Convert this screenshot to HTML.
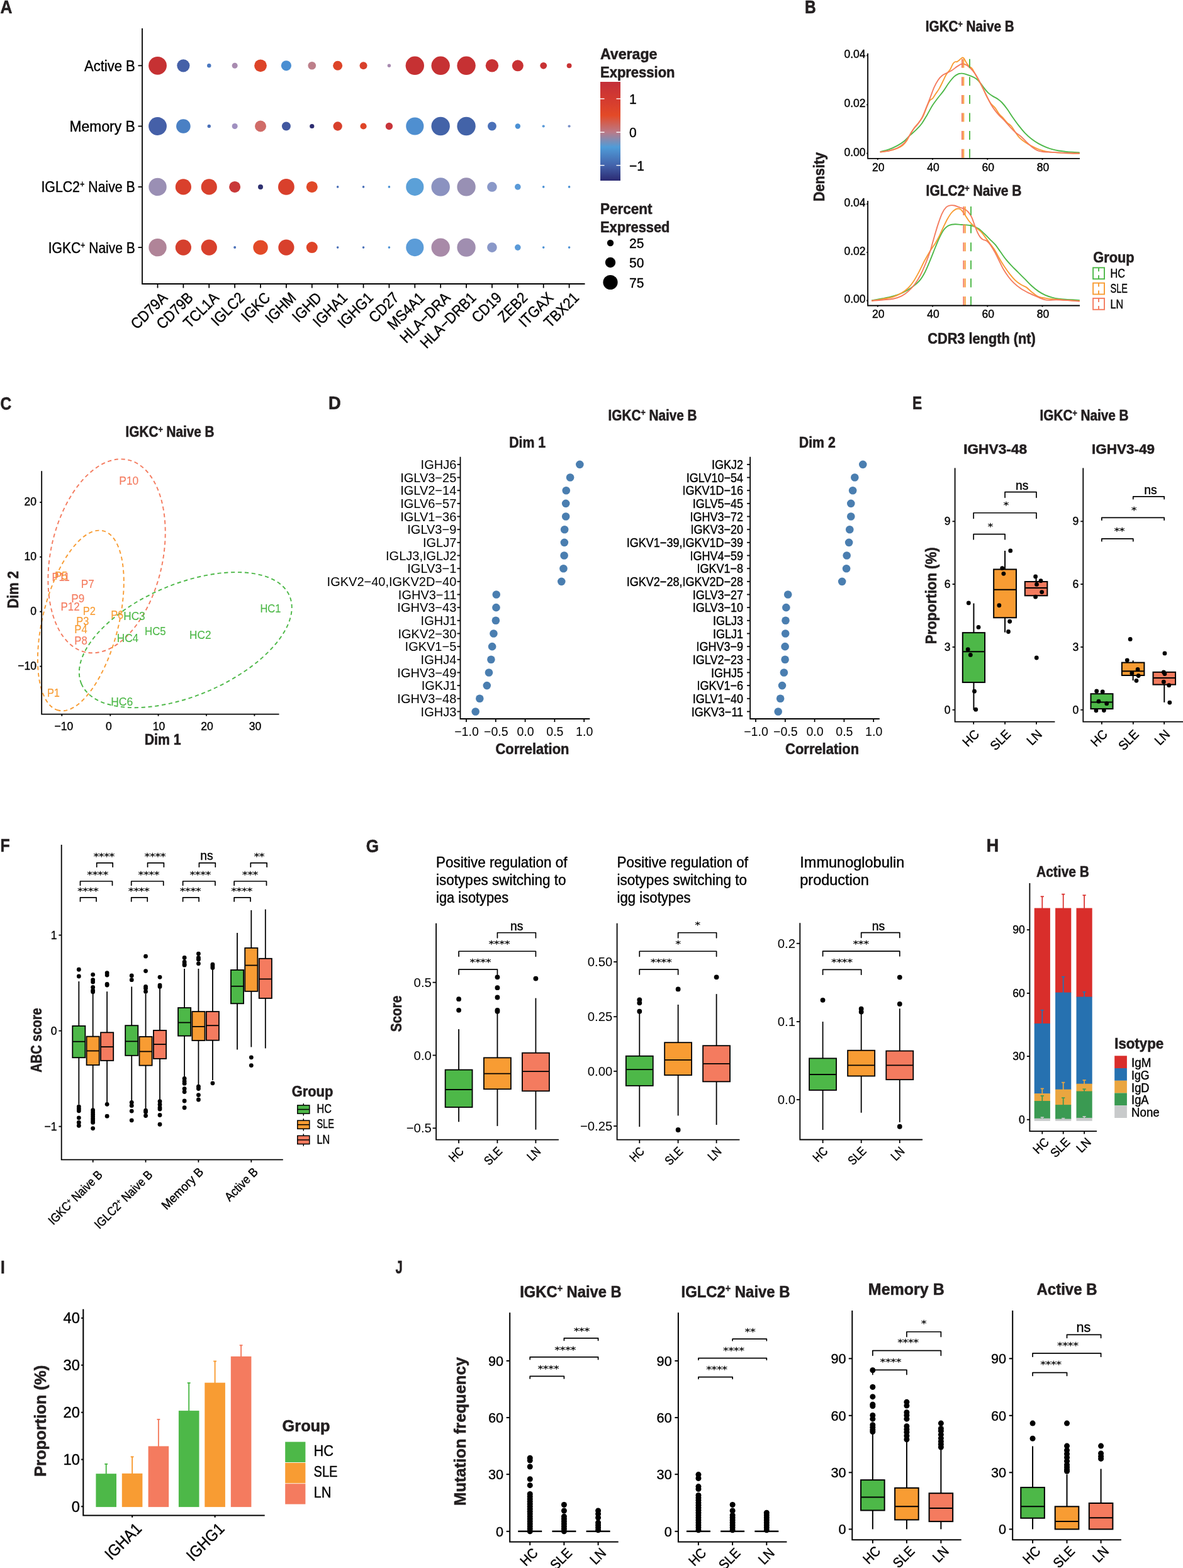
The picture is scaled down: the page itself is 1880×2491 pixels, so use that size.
<!DOCTYPE html>
<html><head><meta charset="utf-8"><title>Figure</title>
<style>html,body{margin:0;padding:0;background:#fff}svg{display:block}text{font-family:"Liberation Sans",sans-serif;fill:#000;stroke:#000;stroke-width:0.4px;stroke-linejoin:round}.b{font-weight:bold;stroke-width:0.6px;fill:#231f20;stroke:#231f20}.h{fill:#000;stroke:none}.s{font-family:"DejaVu Sans","Liberation Sans",sans-serif;font-weight:200;stroke-width:0.6px}</style>
</head><body>
<svg width="1880" height="2491" viewBox="0 0 1880 2491">
<rect width="1880" height="2491" fill="#fff"/>
<text transform="translate(0.5,21.3) scale(0.8918,1)" font-size="29.5" class="b" xml:space="preserve">A</text>
<path d="M226 45V451H929.5" fill="none" stroke="#000" stroke-width="1.8" stroke-linejoin="miter" stroke-linecap="butt"/>
<line x1="250.5" y1="451" x2="250.5" y2="457.5" stroke="#000" stroke-width="1.8"/>
<line x1="291.38" y1="451" x2="291.38" y2="457.5" stroke="#000" stroke-width="1.8"/>
<line x1="332.26" y1="451" x2="332.26" y2="457.5" stroke="#000" stroke-width="1.8"/>
<line x1="373.14" y1="451" x2="373.14" y2="457.5" stroke="#000" stroke-width="1.8"/>
<line x1="414.02" y1="451" x2="414.02" y2="457.5" stroke="#000" stroke-width="1.8"/>
<line x1="454.9" y1="451" x2="454.9" y2="457.5" stroke="#000" stroke-width="1.8"/>
<line x1="495.78" y1="451" x2="495.78" y2="457.5" stroke="#000" stroke-width="1.8"/>
<line x1="536.66" y1="451" x2="536.66" y2="457.5" stroke="#000" stroke-width="1.8"/>
<line x1="577.54" y1="451" x2="577.54" y2="457.5" stroke="#000" stroke-width="1.8"/>
<line x1="618.42" y1="451" x2="618.42" y2="457.5" stroke="#000" stroke-width="1.8"/>
<line x1="659.3" y1="451" x2="659.3" y2="457.5" stroke="#000" stroke-width="1.8"/>
<line x1="700.18" y1="451" x2="700.18" y2="457.5" stroke="#000" stroke-width="1.8"/>
<line x1="741.06" y1="451" x2="741.06" y2="457.5" stroke="#000" stroke-width="1.8"/>
<line x1="781.94" y1="451" x2="781.94" y2="457.5" stroke="#000" stroke-width="1.8"/>
<line x1="822.82" y1="451" x2="822.82" y2="457.5" stroke="#000" stroke-width="1.8"/>
<line x1="863.7" y1="451" x2="863.7" y2="457.5" stroke="#000" stroke-width="1.8"/>
<line x1="904.58" y1="451" x2="904.58" y2="457.5" stroke="#000" stroke-width="1.8"/>
<line x1="219.5" y1="104.3" x2="226" y2="104.3" stroke="#000" stroke-width="1.8"/>
<line x1="219.5" y1="200.5" x2="226" y2="200.5" stroke="#000" stroke-width="1.8"/>
<line x1="219.5" y1="296.9" x2="226" y2="296.9" stroke="#000" stroke-width="1.8"/>
<line x1="219.5" y1="393.1" x2="226" y2="393.1" stroke="#000" stroke-width="1.8"/>
<text transform="translate(214.8,112.8) scale(0.9076,1)" font-size="24.3" text-anchor="end" xml:space="preserve">Active B</text>
<text transform="translate(214.8,209) scale(0.9421,1)" font-size="24.3" text-anchor="end" xml:space="preserve">Memory B</text>
<text transform="translate(214.8,305.4) scale(0.8764,1)" font-size="24.3" text-anchor="end" xml:space="preserve">IGLC2<tspan font-size="14.58" dy="-8.02">+</tspan><tspan dy="8.02"> Naive B</tspan></text>
<text transform="translate(214.8,401.6) scale(0.8644,1)" font-size="24.3" text-anchor="end" xml:space="preserve">IGKC<tspan font-size="14.58" dy="-8.02">+</tspan><tspan dy="8.02"> Naive B</tspan></text>
<text transform="translate(267.5,474.5) rotate(-45) scale(0.9000,1)" font-size="24.3" text-anchor="end" xml:space="preserve">CD79A</text>
<text transform="translate(308.38,474.5) rotate(-45) scale(0.9000,1)" font-size="24.3" text-anchor="end" xml:space="preserve">CD79B</text>
<text transform="translate(349.26,474.5) rotate(-45) scale(0.9000,1)" font-size="24.3" text-anchor="end" xml:space="preserve">TCL1A</text>
<text transform="translate(390.14,474.5) rotate(-45) scale(0.9000,1)" font-size="24.3" text-anchor="end" xml:space="preserve">IGLC2</text>
<text transform="translate(431.02,474.5) rotate(-45) scale(0.9000,1)" font-size="24.3" text-anchor="end" xml:space="preserve">IGKC</text>
<text transform="translate(471.9,474.5) rotate(-45) scale(0.9000,1)" font-size="24.3" text-anchor="end" xml:space="preserve">IGHM</text>
<text transform="translate(512.78,474.5) rotate(-45) scale(0.9000,1)" font-size="24.3" text-anchor="end" xml:space="preserve">IGHD</text>
<text transform="translate(553.66,474.5) rotate(-45) scale(0.9000,1)" font-size="24.3" text-anchor="end" xml:space="preserve">IGHA1</text>
<text transform="translate(594.54,474.5) rotate(-45) scale(0.9000,1)" font-size="24.3" text-anchor="end" xml:space="preserve">IGHG1</text>
<text transform="translate(635.42,474.5) rotate(-45) scale(0.9000,1)" font-size="24.3" text-anchor="end" xml:space="preserve">CD27</text>
<text transform="translate(676.3,474.5) rotate(-45) scale(0.9000,1)" font-size="24.3" text-anchor="end" xml:space="preserve">MS4A1</text>
<text transform="translate(717.18,474.5) rotate(-45) scale(0.9000,1)" font-size="24.3" text-anchor="end" xml:space="preserve">HLA−DRA</text>
<text transform="translate(758.06,474.5) rotate(-45) scale(0.9000,1)" font-size="24.3" text-anchor="end" xml:space="preserve">HLA−DRB1</text>
<text transform="translate(798.94,474.5) rotate(-45) scale(0.9000,1)" font-size="24.3" text-anchor="end" xml:space="preserve">CD19</text>
<text transform="translate(839.82,474.5) rotate(-45) scale(0.9000,1)" font-size="24.3" text-anchor="end" xml:space="preserve">ZEB2</text>
<text transform="translate(880.7,474.5) rotate(-45) scale(0.9000,1)" font-size="24.3" text-anchor="end" xml:space="preserve">ITGAX</text>
<text transform="translate(921.58,474.5) rotate(-45) scale(0.9000,1)" font-size="24.3" text-anchor="end" xml:space="preserve">TBX21</text>
<circle cx="250.5" cy="104.3" r="14.4" fill="#c63133"/>
<circle cx="291.38" cy="104.3" r="10.1" fill="#4560a8"/>
<circle cx="332.26" cy="104.3" r="3.2" fill="#4a78c0"/>
<circle cx="373.14" cy="104.3" r="4.5" fill="#a88bb0"/>
<circle cx="414.02" cy="104.3" r="9.9" fill="#dd4428"/>
<circle cx="454.9" cy="104.3" r="8.1" fill="#4a8fd2"/>
<circle cx="495.78" cy="104.3" r="6.3" fill="#bd7f8a"/>
<circle cx="536.66" cy="104.3" r="7.5" fill="#dd4428"/>
<circle cx="577.54" cy="104.3" r="6" fill="#d8402c"/>
<circle cx="618.42" cy="104.3" r="2.7" fill="#a88ab0"/>
<circle cx="659.3" cy="104.3" r="14.7" fill="#c63133"/>
<circle cx="700.18" cy="104.3" r="14.7" fill="#c63133"/>
<circle cx="741.06" cy="104.3" r="14.7" fill="#c63133"/>
<circle cx="781.94" cy="104.3" r="10.2" fill="#c83234"/>
<circle cx="822.82" cy="104.3" r="9" fill="#c83234"/>
<circle cx="863.7" cy="104.3" r="5.4" fill="#c83234"/>
<circle cx="904.58" cy="104.3" r="3.9" fill="#c83234"/>
<circle cx="250.5" cy="200.5" r="14.4" fill="#4560a8"/>
<circle cx="291.38" cy="200.5" r="11.3" fill="#4a80c4"/>
<circle cx="332.26" cy="200.5" r="2.7" fill="#4a70b8"/>
<circle cx="373.14" cy="200.5" r="4.5" fill="#a090c0"/>
<circle cx="414.02" cy="200.5" r="9" fill="#d06c68"/>
<circle cx="454.9" cy="200.5" r="7" fill="#4158a0"/>
<circle cx="495.78" cy="200.5" r="3.6" fill="#2c2c70"/>
<circle cx="536.66" cy="200.5" r="7.2" fill="#d8402c"/>
<circle cx="577.54" cy="200.5" r="5.1" fill="#df4528"/>
<circle cx="618.42" cy="200.5" r="5.7" fill="#c8343a"/>
<circle cx="659.3" cy="200.5" r="14.1" fill="#4f8fd0"/>
<circle cx="700.18" cy="200.5" r="14.7" fill="#4363a8"/>
<circle cx="741.06" cy="200.5" r="14.7" fill="#4363a8"/>
<circle cx="781.94" cy="200.5" r="6.9" fill="#4a70b8"/>
<circle cx="822.82" cy="200.5" r="4.2" fill="#4a90d4"/>
<circle cx="863.7" cy="200.5" r="2.1" fill="#5a9ad8"/>
<circle cx="904.58" cy="200.5" r="2.1" fill="#7a90c8"/>
<circle cx="250.5" cy="296.9" r="14.2" fill="#9a8fb4"/>
<circle cx="291.38" cy="296.9" r="12.6" fill="#d9402c"/>
<circle cx="332.26" cy="296.9" r="12.6" fill="#d8402c"/>
<circle cx="373.14" cy="296.9" r="9" fill="#c83838"/>
<circle cx="414.02" cy="296.9" r="4" fill="#2e3070"/>
<circle cx="454.9" cy="296.9" r="12.9" fill="#d9402c"/>
<circle cx="495.78" cy="296.9" r="9" fill="#e04828"/>
<circle cx="536.66" cy="296.9" r="1.8" fill="#4a70b8"/>
<circle cx="577.54" cy="296.9" r="1.8" fill="#4a70b8"/>
<circle cx="618.42" cy="296.9" r="1.8" fill="#4a90d4"/>
<circle cx="659.3" cy="296.9" r="14.1" fill="#5ba0d8"/>
<circle cx="700.18" cy="296.9" r="14.7" fill="#8b92c0"/>
<circle cx="741.06" cy="296.9" r="14.7" fill="#9890b4"/>
<circle cx="781.94" cy="296.9" r="7.8" fill="#8a98c8"/>
<circle cx="822.82" cy="296.9" r="4.8" fill="#5a9ad8"/>
<circle cx="863.7" cy="296.9" r="1.8" fill="#4a90d4"/>
<circle cx="904.58" cy="296.9" r="1.8" fill="#4a90d4"/>
<circle cx="250.5" cy="393.1" r="14.2" fill="#b08498"/>
<circle cx="291.38" cy="393.1" r="12.6" fill="#d5402e"/>
<circle cx="332.26" cy="393.1" r="12.6" fill="#d8402c"/>
<circle cx="373.14" cy="393.1" r="2" fill="#4a70b8"/>
<circle cx="414.02" cy="393.1" r="11.7" fill="#e24a28"/>
<circle cx="454.9" cy="393.1" r="12.6" fill="#d8402c"/>
<circle cx="495.78" cy="393.1" r="9" fill="#de4428"/>
<circle cx="536.66" cy="393.1" r="1.8" fill="#4a70b8"/>
<circle cx="577.54" cy="393.1" r="1.8" fill="#4a70b8"/>
<circle cx="618.42" cy="393.1" r="1.8" fill="#4a90d4"/>
<circle cx="659.3" cy="393.1" r="14.1" fill="#5b9cd8"/>
<circle cx="700.18" cy="393.1" r="14.7" fill="#a88aa8"/>
<circle cx="741.06" cy="393.1" r="14.7" fill="#a08eb0"/>
<circle cx="781.94" cy="393.1" r="7.8" fill="#8a98c8"/>
<circle cx="822.82" cy="393.1" r="4.8" fill="#5a9ad8"/>
<circle cx="863.7" cy="393.1" r="1.8" fill="#4a90d4"/>
<circle cx="904.58" cy="393.1" r="1.8" fill="#4a90d4"/>
<text transform="translate(954,93.5) scale(0.9850,1)" font-size="23.5" class="b" xml:space="preserve">Average</text>
<text transform="translate(954,122.5) scale(0.9354,1)" font-size="23.5" class="b" xml:space="preserve">Expression</text>
<defs><linearGradient id="cb" x1="0" y1="0" x2="0" y2="1"><stop offset="0" stop-color="#c32f39"/><stop offset="0.17" stop-color="#d33a30"/><stop offset="0.34" stop-color="#e34a27"/><stop offset="0.51" stop-color="#ba7a88"/><stop offset="0.66" stop-color="#4f9cd8"/><stop offset="0.845" stop-color="#4363ab"/><stop offset="1" stop-color="#2b2a72"/></linearGradient></defs>
<rect x="954" y="130" width="32" height="157" fill="url(#cb)"/>
<line x1="954" y1="156.9" x2="960.5" y2="156.9" stroke="#fff" stroke-width="1.4"/>
<line x1="979.5" y1="156.9" x2="986" y2="156.9" stroke="#fff" stroke-width="1.4"/>
<text transform="translate(1000,164.93) scale(0.9532,1)" font-size="21.97" xml:space="preserve">1</text>
<line x1="954" y1="210.1" x2="960.5" y2="210.1" stroke="#fff" stroke-width="1.4"/>
<line x1="979.5" y1="210.1" x2="986" y2="210.1" stroke="#fff" stroke-width="1.4"/>
<text transform="translate(1000,218.13) scale(0.9532,1)" font-size="21.97" xml:space="preserve">0</text>
<line x1="954" y1="262.7" x2="960.5" y2="262.7" stroke="#fff" stroke-width="1.4"/>
<line x1="979.5" y1="262.7" x2="986" y2="262.7" stroke="#fff" stroke-width="1.4"/>
<text transform="translate(1000,270.73) scale(0.9532,1)" font-size="21.97" xml:space="preserve">−1</text>
<text transform="translate(954,339.5) scale(0.9570,1)" font-size="23.5" class="b" xml:space="preserve">Percent</text>
<text transform="translate(954,368.5) scale(0.9296,1)" font-size="23.5" class="b" xml:space="preserve">Expressed</text>
<circle cx="970" cy="386" r="5.2" fill="#000"/>
<text transform="translate(1000,394.03) scale(0.9532,1)" font-size="21.97" xml:space="preserve">25</text>
<circle cx="970" cy="417" r="8.2" fill="#000"/>
<text transform="translate(1000,425.03) scale(0.9532,1)" font-size="21.97" xml:space="preserve">50</text>
<circle cx="970" cy="448.5" r="11.6" fill="#000"/>
<text transform="translate(1000,456.53) scale(0.9532,1)" font-size="21.97" xml:space="preserve">75</text>
<text transform="translate(1279,20.6) scale(0.8308,1)" font-size="29.5" class="b" xml:space="preserve">B</text>
<text transform="translate(1541.2,50.2) scale(0.9020,1)" font-size="23" text-anchor="middle" class="b" xml:space="preserve">IGKC<tspan font-size="13.8" dy="-7.59">+</tspan><tspan dy="7.59"> Naive B</tspan></text>
<text transform="translate(1547.5,311.4) scale(0.9126,1)" font-size="23" text-anchor="middle" class="b" xml:space="preserve">IGLC2<tspan font-size="13.8" dy="-7.59">+</tspan><tspan dy="7.59"> Naive B</tspan></text>
<text transform="translate(1560,546) scale(0.9454,1)" font-size="23" text-anchor="middle" class="b" xml:space="preserve">CDR3 length (nt)</text>
<text transform="translate(1309.5,281) rotate(-90) scale(0.9389,1)" font-size="23" text-anchor="middle" class="b" xml:space="preserve">Density</text>
<path d="M1398.69 241.05C1401.1 240.41 1408.57 238.79 1413.14 237.17C1417.71 235.55 1422.13 233.5 1426.08 231.35C1430.04 229.19 1433.63 226.85 1436.87 224.23C1440.1 221.6 1442.26 218.66 1445.5 215.6C1448.73 212.54 1453.05 209.13 1456.28 205.89C1459.52 202.66 1462.03 200.14 1464.91 196.19C1467.79 192.23 1470.66 187.02 1473.54 182.17C1476.41 177.31 1479.29 171.56 1482.17 167.07C1485.04 162.57 1487.92 158.98 1490.79 155.2C1493.67 151.43 1496.55 148.37 1499.42 144.42C1502.3 140.46 1505.17 135.32 1508.05 131.48C1510.93 127.63 1514.16 123.67 1516.68 121.34C1519.19 119 1521.24 118.25 1523.15 117.45C1525.05 116.66 1526.31 116.56 1528.11 116.59C1529.91 116.63 1531.53 116.99 1533.93 117.67C1536.34 118.35 1539.69 119.47 1542.56 120.69C1545.44 121.91 1548.67 123.21 1551.19 125C1553.71 126.8 1555.5 128.96 1557.66 131.48C1559.82 133.99 1561.98 137.41 1564.13 140.1C1566.29 142.8 1568.45 145.6 1570.6 147.65C1572.76 149.7 1574.56 150.78 1577.08 152.4C1579.59 154.02 1583.19 155.63 1585.7 157.36C1588.22 159.09 1589.66 160.06 1592.17 162.75C1594.69 165.45 1597.93 169.58 1600.8 173.54C1603.68 177.49 1606.55 182.35 1609.43 186.48C1612.31 190.61 1614.82 194.21 1618.06 198.34C1621.29 202.48 1625.25 207.51 1628.84 211.29C1632.44 215.06 1636.03 218.19 1639.63 220.99C1643.22 223.8 1646.82 226.06 1650.41 228.11C1654.01 230.16 1657.6 231.78 1661.2 233.29C1664.79 234.8 1668.39 236.13 1671.98 237.17C1675.58 238.21 1679.17 238.93 1682.77 239.54C1686.36 240.15 1689.96 240.48 1693.55 240.84C1697.15 241.2 1700.64 241.45 1704.34 241.7C1708.04 241.95 1713.87 242.24 1715.77 242.35" fill="none" stroke="#4db848" stroke-width="1.9" stroke-linejoin="round" stroke-linecap="butt"/>
<path d="M1398.69 241.7C1401.1 241.34 1408.57 240.55 1413.14 239.54C1417.71 238.54 1422.49 237.13 1426.08 235.66C1429.68 234.19 1432.19 232.78 1434.71 230.7C1437.23 228.61 1439.03 226.38 1441.18 223.15C1443.34 219.91 1445.5 214.88 1447.65 211.29C1449.81 207.69 1451.97 204.45 1454.12 201.58C1456.28 198.7 1458.44 196.91 1460.6 194.03C1462.75 191.15 1464.91 188.64 1467.07 184.32C1469.22 180.01 1471.74 172.28 1473.54 168.14C1475.34 164.01 1476.41 161.49 1477.85 159.52C1479.29 157.54 1480.73 157.9 1482.17 156.28C1483.6 154.66 1484.68 152.51 1486.48 149.81C1488.28 147.11 1490.79 143.88 1492.95 140.1C1495.11 136.33 1497.62 130.76 1499.42 127.16C1501.22 123.57 1501.94 121.41 1503.74 118.53C1505.53 115.66 1508.41 112.78 1510.21 109.91C1512 107.03 1513.26 103.22 1514.52 101.28C1515.78 99.34 1516.68 98.8 1517.76 98.26C1518.84 97.72 1519.73 98.62 1520.99 98.04C1522.25 97.47 1523.94 95.88 1525.31 94.81C1526.67 93.73 1528.11 91.93 1529.19 91.57C1530.27 91.21 1530.63 91.21 1531.78 92.65C1532.93 94.09 1534.65 98.04 1536.09 100.2C1537.53 102.36 1538.97 104.15 1540.41 105.59C1541.84 107.03 1543.28 107.03 1544.72 108.83C1546.16 110.62 1547.24 113.14 1549.03 116.38C1550.83 119.61 1553.35 124.29 1555.5 128.24C1557.66 132.19 1559.82 135.79 1561.98 140.1C1564.13 144.42 1566.29 149.99 1568.45 154.12C1570.6 158.26 1572.76 162.03 1574.92 164.91C1577.08 167.79 1579.23 168.68 1581.39 171.38C1583.55 174.08 1585.7 178.39 1587.86 181.09C1590.02 183.78 1592.17 185.22 1594.33 187.56C1596.49 189.9 1598.65 192.95 1600.8 195.11C1602.96 197.26 1605.12 197.98 1607.27 200.5C1609.43 203.02 1611.59 207.15 1613.74 210.21C1615.9 213.26 1617.7 216.25 1620.22 218.84C1622.73 221.42 1625.61 223.51 1628.84 225.74C1632.08 227.97 1636.03 230.3 1639.63 232.21C1643.22 234.11 1646.82 235.8 1650.41 237.17C1654.01 238.54 1657.6 239.61 1661.2 240.41C1664.79 241.2 1666.59 241.45 1671.98 241.92C1677.38 242.38 1686.26 242.89 1693.55 243.21C1700.85 243.53 1712.07 243.75 1715.77 243.86" fill="none" stroke="#f89c33" stroke-width="1.9" stroke-linejoin="round" stroke-linecap="butt"/>
<path d="M1398.69 241.48C1401.1 241.12 1408.57 240.41 1413.14 239.33C1417.71 238.25 1422.13 236.99 1426.08 235.01C1430.04 233.04 1433.63 230.81 1436.87 227.46C1440.1 224.12 1442.98 218.73 1445.5 214.95C1448.01 211.18 1449.81 207.76 1451.97 204.81C1454.12 201.87 1456.28 200.14 1458.44 197.26C1460.6 194.39 1462.75 191.69 1464.91 187.56C1467.07 183.42 1469.22 177.67 1471.38 172.46C1473.54 167.25 1475.69 161.85 1477.85 156.28C1480.01 150.71 1482.17 143.88 1484.32 139.03C1486.48 134.17 1488.64 130.32 1490.79 127.16C1492.95 124 1495.11 121.84 1497.26 120.04C1499.42 118.25 1501.22 117.71 1503.74 116.38C1506.25 115.05 1509.49 113.86 1512.36 112.06C1515.24 110.26 1518.48 107.28 1520.99 105.59C1523.51 103.9 1525.85 102.61 1527.46 101.92C1529.08 101.24 1529.26 101.24 1530.7 101.49C1532.14 101.74 1534.11 102.21 1536.09 103.43C1538.07 104.66 1540.41 106.67 1542.56 108.83C1544.72 110.98 1546.88 113.32 1549.03 116.38C1551.19 119.43 1553.35 123.21 1555.5 127.16C1557.66 131.12 1559.82 135.79 1561.98 140.1C1564.13 144.42 1566.29 148.73 1568.45 153.05C1570.6 157.36 1572.76 162.21 1574.92 165.99C1577.08 169.76 1579.23 172.82 1581.39 175.69C1583.55 178.57 1585.34 180.55 1587.86 183.24C1590.38 185.94 1593.61 188.82 1596.49 191.87C1599.36 194.93 1602.24 198.52 1605.12 201.58C1607.99 204.63 1610.87 207.69 1613.74 210.21C1616.62 212.72 1619.5 214.16 1622.37 216.68C1625.25 219.19 1628.12 222.54 1631 225.31C1633.88 228.07 1636.75 231.02 1639.63 233.29C1642.51 235.55 1645.38 237.6 1648.26 238.9C1651.13 240.19 1652.93 240.55 1656.89 241.05C1660.84 241.56 1665.87 241.59 1671.98 241.92C1678.1 242.24 1686.26 242.71 1693.55 242.99C1700.85 243.28 1712.07 243.53 1715.77 243.64" fill="none" stroke="#f47b5f" stroke-width="1.9" stroke-linejoin="round" stroke-linecap="butt"/>
<line x1="1529" y1="93.7" x2="1529" y2="251.8" stroke="#f47b5f" stroke-width="1.9" stroke-dasharray="14 14.6"/>
<line x1="1531.3" y1="93.7" x2="1531.3" y2="251.8" stroke="#f89c33" stroke-width="1.9" stroke-dasharray="14 14.6"/>
<line x1="1541" y1="93.7" x2="1541" y2="251.8" stroke="#4db848" stroke-width="1.9" stroke-dasharray="14 14.6"/>
<path d="M1379.1 84.7V251.8H1716" fill="none" stroke="#000" stroke-width="1.8" stroke-linejoin="miter" stroke-linecap="butt"/>
<line x1="1394.8" y1="251.8" x2="1394.8" y2="253.8" stroke="#000" stroke-width="1.8"/>
<line x1="1482.04" y1="251.8" x2="1482.04" y2="253.8" stroke="#000" stroke-width="1.8"/>
<line x1="1569.28" y1="251.8" x2="1569.28" y2="253.8" stroke="#000" stroke-width="1.8"/>
<line x1="1656.52" y1="251.8" x2="1656.52" y2="253.8" stroke="#000" stroke-width="1.8"/>
<line x1="1377.1" y1="88.3" x2="1379.1" y2="88.3" stroke="#000" stroke-width="1.8"/>
<line x1="1377.1" y1="166.4" x2="1379.1" y2="166.4" stroke="#000" stroke-width="1.8"/>
<line x1="1377.1" y1="243.6" x2="1379.1" y2="243.6" stroke="#000" stroke-width="1.8"/>
<text transform="translate(1375.6,92.21) scale(0.9532,1)" font-size="18.42" text-anchor="end" xml:space="preserve">0.04</text>
<text transform="translate(1375.6,170.31) scale(0.9532,1)" font-size="18.42" text-anchor="end" xml:space="preserve">0.02</text>
<text transform="translate(1375.6,247.51) scale(0.9532,1)" font-size="18.42" text-anchor="end" xml:space="preserve">0.00</text>
<text transform="translate(1395.8,271.61) scale(0.9532,1)" font-size="18.42" text-anchor="middle" xml:space="preserve">20</text>
<text transform="translate(1483.04,271.61) scale(0.9532,1)" font-size="18.42" text-anchor="middle" xml:space="preserve">40</text>
<text transform="translate(1570.28,271.61) scale(0.9532,1)" font-size="18.42" text-anchor="middle" xml:space="preserve">60</text>
<text transform="translate(1657.52,271.61) scale(0.9532,1)" font-size="18.42" text-anchor="middle" xml:space="preserve">80</text>
<path d="M1385.1 477.31C1387.98 476.8 1396.6 475.44 1402.36 474.29C1408.11 473.14 1414.22 471.95 1419.61 470.41C1425 468.86 1430.04 467.17 1434.71 465.01C1439.38 462.86 1443.34 460.52 1447.65 457.46C1451.97 454.41 1457 450.63 1460.6 446.68C1464.19 442.72 1466.35 439.13 1469.22 433.74C1472.1 428.34 1474.98 421.15 1477.85 414.32C1480.73 407.49 1483.96 398.86 1486.48 392.75C1489 386.64 1490.79 382.15 1492.95 377.65C1495.11 373.16 1497.26 368.85 1499.42 365.79C1501.58 362.73 1503.74 360.83 1505.89 359.32C1508.05 357.81 1510.21 357.23 1512.36 356.73C1514.52 356.23 1516.32 356.26 1518.84 356.3C1521.35 356.33 1524.23 356.73 1527.46 356.95C1530.7 357.16 1535.01 357.2 1538.25 357.59C1541.48 357.99 1544 358.31 1546.88 359.32C1549.75 360.32 1552.63 361.66 1555.5 363.63C1558.38 365.61 1561.26 368.49 1564.13 371.18C1567.01 373.88 1569.88 376.93 1572.76 379.81C1575.64 382.69 1578.51 385.02 1581.39 388.44C1584.27 391.85 1587.14 396.35 1590.02 400.3C1592.89 404.26 1595.77 408.57 1598.65 412.17C1601.52 415.76 1604.04 418.46 1607.27 421.87C1610.51 425.29 1614.46 429.06 1618.06 432.66C1621.65 436.25 1625.25 439.85 1628.84 443.44C1632.44 447.04 1636.03 450.99 1639.63 454.23C1643.22 457.46 1646.82 460.41 1650.41 462.86C1654.01 465.3 1657.6 467.28 1661.2 468.9C1664.79 470.51 1668.39 471.59 1671.98 472.56C1675.58 473.53 1679.17 474.18 1682.77 474.72C1686.36 475.26 1688.05 475.44 1693.55 475.8C1699.06 476.16 1712.07 476.7 1715.77 476.88" fill="none" stroke="#4db848" stroke-width="1.9" stroke-linejoin="round" stroke-linecap="butt"/>
<path d="M1385.1 477.96C1387.98 477.49 1396.6 476.23 1402.36 475.15C1408.11 474.07 1414.58 473.07 1419.61 471.48C1424.64 469.9 1428.6 468 1432.55 465.66C1436.51 463.32 1440.1 460.63 1443.34 457.46C1446.57 454.3 1449.09 450.99 1451.97 446.68C1454.84 442.36 1457.72 436.97 1460.6 431.58C1463.47 426.19 1466.35 419.72 1469.22 414.32C1472.1 408.93 1474.98 403.9 1477.85 399.22C1480.73 394.55 1483.96 390.42 1486.48 386.28C1489 382.15 1490.79 378.73 1492.95 374.42C1495.11 370.1 1497.26 364.89 1499.42 360.4C1501.58 355.9 1503.74 351.23 1505.89 347.45C1508.05 343.68 1510.21 340.26 1512.36 337.75C1514.52 335.23 1517.04 333.4 1518.84 332.36C1520.63 331.31 1521.71 331.31 1523.15 331.49C1524.59 331.67 1525.67 331.67 1527.46 333.43C1529.26 335.2 1531.78 339.01 1533.93 342.06C1536.09 345.12 1538.25 349.07 1540.41 351.77C1542.56 354.47 1544.72 356.26 1546.88 358.24C1549.03 360.22 1551.19 361.83 1553.35 363.63C1555.5 365.43 1557.66 366.69 1559.82 369.03C1561.98 371.36 1564.13 374.78 1566.29 377.65C1568.45 380.53 1570.24 382.87 1572.76 386.28C1575.28 389.7 1578.87 394.19 1581.39 398.14C1583.91 402.1 1585.34 405.69 1587.86 410.01C1590.38 414.32 1593.61 419.72 1596.49 424.03C1599.36 428.34 1602.24 432.3 1605.12 435.89C1607.99 439.49 1610.87 442.9 1613.74 445.6C1616.62 448.3 1619.5 450.27 1622.37 452.07C1625.25 453.87 1628.12 454.41 1631 456.38C1633.88 458.36 1636.39 461.42 1639.63 463.93C1642.86 466.45 1646.82 469.87 1650.41 471.48C1654.01 473.1 1657.6 473.03 1661.2 473.64C1664.79 474.25 1668.39 474.79 1671.98 475.15C1675.58 475.51 1679.17 475.51 1682.77 475.8C1686.36 476.09 1688.05 476.48 1693.55 476.88C1699.06 477.27 1712.07 477.96 1715.77 478.17" fill="none" stroke="#f89c33" stroke-width="1.9" stroke-linejoin="round" stroke-linecap="butt"/>
<path d="M1385.1 477.74C1387.98 477.52 1396.6 476.95 1402.36 476.45C1408.11 475.94 1414.58 475.73 1419.61 474.72C1424.64 473.71 1428.6 472.38 1432.55 470.41C1436.51 468.43 1439.74 466.09 1443.34 462.86C1446.93 459.62 1450.89 455.31 1454.12 450.99C1457.36 446.68 1459.88 442.54 1462.75 436.97C1465.63 431.4 1468.86 423.67 1471.38 417.56C1473.9 411.45 1475.69 406.95 1477.85 400.3C1480.01 393.65 1482.17 385.02 1484.32 377.65C1486.48 370.28 1488.64 362.55 1490.79 356.08C1492.95 349.61 1495.11 343.32 1497.26 338.83C1499.42 334.33 1501.58 331.21 1503.74 329.12C1505.89 327.03 1508.05 326.75 1510.21 326.32C1512.36 325.88 1514.16 325.99 1516.68 326.53C1519.19 327.07 1522.43 328.51 1525.31 329.55C1528.18 330.59 1531.42 331.24 1533.93 332.79C1536.45 334.33 1538.61 336.56 1540.41 338.83C1542.2 341.09 1543.28 343.14 1544.72 346.38C1546.16 349.61 1547.6 354.47 1549.03 358.24C1550.47 362.01 1551.91 365.97 1553.35 369.03C1554.79 372.08 1556.22 374.67 1557.66 376.57C1559.1 378.48 1560.18 379.38 1561.98 380.46C1563.77 381.54 1566.29 381.36 1568.45 383.05C1570.6 384.74 1572.76 387.54 1574.92 390.6C1577.08 393.65 1579.23 397.43 1581.39 401.38C1583.55 405.34 1585.7 410.01 1587.86 414.32C1590.02 418.64 1591.81 422.95 1594.33 427.26C1596.85 431.58 1600.08 436.43 1602.96 440.21C1605.84 443.98 1608.35 446.86 1611.59 449.91C1614.82 452.97 1618.42 455.92 1622.37 458.54C1626.33 461.17 1631 463.5 1635.31 465.66C1639.63 467.82 1644.3 469.79 1648.26 471.48C1652.21 473.17 1655.81 474.9 1659.04 475.8C1662.28 476.7 1664.43 476.8 1667.67 476.88C1670.91 476.95 1674.14 476.23 1678.46 476.23C1682.77 476.23 1687.34 476.48 1693.55 476.88C1699.77 477.27 1712.07 478.31 1715.77 478.6" fill="none" stroke="#f47b5f" stroke-width="1.9" stroke-linejoin="round" stroke-linecap="butt"/>
<line x1="1531.3" y1="328" x2="1531.3" y2="485.5" stroke="#f47b5f" stroke-width="1.9" stroke-dasharray="14 14.6"/>
<line x1="1533.7" y1="328" x2="1533.7" y2="485.5" stroke="#f89c33" stroke-width="1.9" stroke-dasharray="14 14.6"/>
<line x1="1543" y1="328" x2="1543" y2="485.5" stroke="#4db848" stroke-width="1.9" stroke-dasharray="14 14.6"/>
<path d="M1379.1 319V485.5H1716" fill="none" stroke="#000" stroke-width="1.8" stroke-linejoin="miter" stroke-linecap="butt"/>
<line x1="1394.8" y1="485.5" x2="1394.8" y2="487.5" stroke="#000" stroke-width="1.8"/>
<line x1="1482.04" y1="485.5" x2="1482.04" y2="487.5" stroke="#000" stroke-width="1.8"/>
<line x1="1569.28" y1="485.5" x2="1569.28" y2="487.5" stroke="#000" stroke-width="1.8"/>
<line x1="1656.52" y1="485.5" x2="1656.52" y2="487.5" stroke="#000" stroke-width="1.8"/>
<line x1="1377.1" y1="324.2" x2="1379.1" y2="324.2" stroke="#000" stroke-width="1.8"/>
<line x1="1377.1" y1="401" x2="1379.1" y2="401" stroke="#000" stroke-width="1.8"/>
<line x1="1377.1" y1="477.5" x2="1379.1" y2="477.5" stroke="#000" stroke-width="1.8"/>
<text transform="translate(1375.6,328.11) scale(0.9532,1)" font-size="18.42" text-anchor="end" xml:space="preserve">0.04</text>
<text transform="translate(1375.6,404.91) scale(0.9532,1)" font-size="18.42" text-anchor="end" xml:space="preserve">0.02</text>
<text transform="translate(1375.6,481.41) scale(0.9532,1)" font-size="18.42" text-anchor="end" xml:space="preserve">0.00</text>
<text transform="translate(1395.8,505.31) scale(0.9532,1)" font-size="18.42" text-anchor="middle" xml:space="preserve">20</text>
<text transform="translate(1483.04,505.31) scale(0.9532,1)" font-size="18.42" text-anchor="middle" xml:space="preserve">40</text>
<text transform="translate(1570.28,505.31) scale(0.9532,1)" font-size="18.42" text-anchor="middle" xml:space="preserve">60</text>
<text transform="translate(1657.52,505.31) scale(0.9532,1)" font-size="18.42" text-anchor="middle" xml:space="preserve">80</text>
<text transform="translate(1737.2,416.7) scale(0.9495,1)" font-size="23" class="b" xml:space="preserve">Group</text>
<rect x="1737.1" y="425.3" width="17.9" height="17.9" fill="none" stroke="#4db848" stroke-width="1.9"/>
<line x1="1746" y1="425.3" x2="1746" y2="431.3" stroke="#4db848" stroke-width="1.9"/>
<line x1="1746" y1="437.3" x2="1746" y2="443.2" stroke="#4db848" stroke-width="1.9"/>
<text transform="translate(1764.5,441.1) scale(0.8259,1)" font-size="19.7" xml:space="preserve">HC</text>
<rect x="1737.1" y="449.6" width="17.9" height="17.9" fill="none" stroke="#f89c33" stroke-width="1.9"/>
<line x1="1746" y1="449.6" x2="1746" y2="455.6" stroke="#f89c33" stroke-width="1.9"/>
<line x1="1746" y1="461.6" x2="1746" y2="467.5" stroke="#f89c33" stroke-width="1.9"/>
<text transform="translate(1764.5,465.4) scale(0.7385,1)" font-size="19.7" xml:space="preserve">SLE</text>
<rect x="1737.1" y="473.9" width="17.9" height="17.9" fill="none" stroke="#f47b5f" stroke-width="1.9"/>
<line x1="1746" y1="473.9" x2="1746" y2="479.9" stroke="#f47b5f" stroke-width="1.9"/>
<line x1="1746" y1="485.9" x2="1746" y2="491.8" stroke="#f47b5f" stroke-width="1.9"/>
<text transform="translate(1764.5,489.7) scale(0.8220,1)" font-size="19.7" xml:space="preserve">LN</text>
<text transform="translate(0.5,651) scale(0.8308,1)" font-size="29.5" class="b" xml:space="preserve">C</text>
<text transform="translate(270,694.3) scale(0.9020,1)" font-size="23" text-anchor="middle" class="b" xml:space="preserve">IGKC<tspan font-size="13.8" dy="-7.59">+</tspan><tspan dy="7.59"> Naive B</tspan></text>
<ellipse cx="169.56" cy="883.33" rx="156.48" ry="88.91" transform="rotate(102.49 169.56 883.33)" fill="none" stroke="#f47b5f" stroke-width="1.9" stroke-dasharray="6.2 4.7"/>
<ellipse cx="128.37" cy="985.94" rx="146.97" ry="60.28" transform="rotate(104 128.37 985.94)" fill="none" stroke="#f89c33" stroke-width="1.9" stroke-dasharray="6.2 4.7"/>
<ellipse cx="294.79" cy="1016.64" rx="179.5" ry="88.87" transform="rotate(157.14 294.79 1016.64)" fill="none" stroke="#4db848" stroke-width="1.9" stroke-dasharray="6.2 4.7"/>
<path d="M66.2 748.2V1134.6H443.5" fill="none" stroke="#000" stroke-width="1.8" stroke-linejoin="miter" stroke-linecap="butt"/>
<line x1="98.3" y1="1134.6" x2="98.3" y2="1137.6" stroke="#000" stroke-width="1.8"/>
<line x1="175.3" y1="1134.6" x2="175.3" y2="1137.6" stroke="#000" stroke-width="1.8"/>
<line x1="251.6" y1="1134.6" x2="251.6" y2="1137.6" stroke="#000" stroke-width="1.8"/>
<line x1="328" y1="1134.6" x2="328" y2="1137.6" stroke="#000" stroke-width="1.8"/>
<line x1="404.4" y1="1134.6" x2="404.4" y2="1137.6" stroke="#000" stroke-width="1.8"/>
<line x1="63.2" y1="798" x2="66.2" y2="798" stroke="#000" stroke-width="1.8"/>
<line x1="63.2" y1="884.8" x2="66.2" y2="884.8" stroke="#000" stroke-width="1.8"/>
<line x1="63.2" y1="971.7" x2="66.2" y2="971.7" stroke="#000" stroke-width="1.8"/>
<line x1="63.2" y1="1058.6" x2="66.2" y2="1058.6" stroke="#000" stroke-width="1.8"/>
<text transform="translate(58,803.21) scale(0.9532,1)" font-size="18.42" text-anchor="end" xml:space="preserve">20</text>
<text transform="translate(58,890.01) scale(0.9532,1)" font-size="18.42" text-anchor="end" xml:space="preserve">10</text>
<text transform="translate(58,976.91) scale(0.9532,1)" font-size="18.42" text-anchor="end" xml:space="preserve">0</text>
<text transform="translate(58,1063.81) scale(0.9532,1)" font-size="18.42" text-anchor="end" xml:space="preserve">−10</text>
<text transform="translate(101.3,1159.61) scale(0.9532,1)" font-size="18.42" text-anchor="middle" xml:space="preserve">−10</text>
<text transform="translate(173,1159.61) scale(0.9532,1)" font-size="18.42" text-anchor="middle" xml:space="preserve">0</text>
<text transform="translate(252.6,1159.61) scale(0.9532,1)" font-size="18.42" text-anchor="middle" xml:space="preserve">10</text>
<text transform="translate(329,1159.61) scale(0.9532,1)" font-size="18.42" text-anchor="middle" xml:space="preserve">20</text>
<text transform="translate(405.4,1159.61) scale(0.9532,1)" font-size="18.42" text-anchor="middle" xml:space="preserve">30</text>
<text transform="translate(258.7,1182.8) scale(0.9260,1)" font-size="23" text-anchor="middle" class="b" xml:space="preserve">Dim 1</text>
<text transform="translate(29.2,936.8) rotate(-90) scale(0.9500,1)" font-size="23" text-anchor="middle" class="b" xml:space="preserve">Dim 2</text>
<text transform="translate(189.33,769.79) scale(0.9128,1)" font-size="19" style="fill:#f47b5f;stroke:#f47b5f;stroke-width:0.15px" xml:space="preserve">P10</text>
<text transform="translate(86.88,921.08) scale(0.8766,1)" font-size="19" style="fill:#f89c33;stroke:#f89c33;stroke-width:0.15px" xml:space="preserve">P5</text>
<text transform="translate(82.38,923.48) scale(0.8785,1)" font-size="19" style="fill:#f47b5f;stroke:#f47b5f;stroke-width:0.15px" xml:space="preserve">P11</text>
<text transform="translate(128.82,933.96) scale(0.9024,1)" font-size="19" style="fill:#f47b5f;stroke:#f47b5f;stroke-width:0.15px" xml:space="preserve">P7</text>
<text transform="translate(113.24,957.03) scale(0.9024,1)" font-size="19" style="fill:#f47b5f;stroke:#f47b5f;stroke-width:0.15px" xml:space="preserve">P9</text>
<text transform="translate(96.46,969.91) scale(0.8951,1)" font-size="19" style="fill:#f47b5f;stroke:#f47b5f;stroke-width:0.15px" xml:space="preserve">P12</text>
<text transform="translate(131.82,977.4) scale(0.8637,1)" font-size="19" style="fill:#f89c33;stroke:#f89c33;stroke-width:0.15px" xml:space="preserve">P2</text>
<text transform="translate(176.15,983.09) scale(0.8637,1)" font-size="19" style="fill:#f89c33;stroke:#f89c33;stroke-width:0.15px" xml:space="preserve">P6</text>
<text transform="translate(196.23,985.49) scale(0.9064,1)" font-size="19" style="fill:#4db848;stroke:#4db848;stroke-width:0.15px" xml:space="preserve">HC3</text>
<text transform="translate(121.33,992.98) scale(0.8637,1)" font-size="19" style="fill:#f89c33;stroke:#f89c33;stroke-width:0.15px" xml:space="preserve">P3</text>
<text transform="translate(118.33,1005.56) scale(0.8766,1)" font-size="19" style="fill:#f89c33;stroke:#f89c33;stroke-width:0.15px" xml:space="preserve">P4</text>
<text transform="translate(230.08,1009.45) scale(0.8828,1)" font-size="19" style="fill:#4db848;stroke:#4db848;stroke-width:0.15px" xml:space="preserve">HC5</text>
<text transform="translate(301.08,1014.85) scale(0.9064,1)" font-size="19" style="fill:#4db848;stroke:#4db848;stroke-width:0.15px" xml:space="preserve">HC2</text>
<text transform="translate(185.74,1019.94) scale(0.9064,1)" font-size="19" style="fill:#4db848;stroke:#4db848;stroke-width:0.15px" xml:space="preserve">HC4</text>
<text transform="translate(118.33,1024.43) scale(0.8766,1)" font-size="19" style="fill:#f47b5f;stroke:#f47b5f;stroke-width:0.15px" xml:space="preserve">P8</text>
<text transform="translate(413.42,972.91) scale(0.8670,1)" font-size="19" style="fill:#4db848;stroke:#4db848;stroke-width:0.15px" xml:space="preserve">HC1</text>
<text transform="translate(74.9,1107.42) scale(0.8637,1)" font-size="19" style="fill:#f89c33;stroke:#f89c33;stroke-width:0.15px" xml:space="preserve">P1</text>
<text transform="translate(176.15,1121.2) scale(0.9222,1)" font-size="19" style="fill:#4db848;stroke:#4db848;stroke-width:0.15px" xml:space="preserve">HC6</text>
<text transform="translate(522,650) scale(0.9247,1)" font-size="29.5" class="b" xml:space="preserve">D</text>
<text transform="translate(1037,667.5) scale(0.9020,1)" font-size="23" text-anchor="middle" class="b" xml:space="preserve">IGKC<tspan font-size="13.8" dy="-7.59">+</tspan><tspan dy="7.59"> Naive B</tspan></text>
<path d="M731.5 725.8V1142H937.3" fill="none" stroke="#000" stroke-width="1.8" stroke-linejoin="miter" stroke-linecap="butt"/>
<line x1="741" y1="1142" x2="741" y2="1147" stroke="#000" stroke-width="1.8"/>
<line x1="787.8" y1="1142" x2="787.8" y2="1147" stroke="#000" stroke-width="1.8"/>
<line x1="834.6" y1="1142" x2="834.6" y2="1147" stroke="#000" stroke-width="1.8"/>
<line x1="881.4" y1="1142" x2="881.4" y2="1147" stroke="#000" stroke-width="1.8"/>
<line x1="928.2" y1="1142" x2="928.2" y2="1147" stroke="#000" stroke-width="1.8"/>
<line x1="726.5" y1="737.9" x2="731.5" y2="737.9" stroke="#000" stroke-width="1.8"/>
<line x1="726.5" y1="758.56" x2="731.5" y2="758.56" stroke="#000" stroke-width="1.8"/>
<line x1="726.5" y1="779.22" x2="731.5" y2="779.22" stroke="#000" stroke-width="1.8"/>
<line x1="726.5" y1="799.88" x2="731.5" y2="799.88" stroke="#000" stroke-width="1.8"/>
<line x1="726.5" y1="820.54" x2="731.5" y2="820.54" stroke="#000" stroke-width="1.8"/>
<line x1="726.5" y1="841.2" x2="731.5" y2="841.2" stroke="#000" stroke-width="1.8"/>
<line x1="726.5" y1="861.86" x2="731.5" y2="861.86" stroke="#000" stroke-width="1.8"/>
<line x1="726.5" y1="882.52" x2="731.5" y2="882.52" stroke="#000" stroke-width="1.8"/>
<line x1="726.5" y1="903.18" x2="731.5" y2="903.18" stroke="#000" stroke-width="1.8"/>
<line x1="726.5" y1="923.84" x2="731.5" y2="923.84" stroke="#000" stroke-width="1.8"/>
<line x1="726.5" y1="944.5" x2="731.5" y2="944.5" stroke="#000" stroke-width="1.8"/>
<line x1="726.5" y1="965.16" x2="731.5" y2="965.16" stroke="#000" stroke-width="1.8"/>
<line x1="726.5" y1="985.82" x2="731.5" y2="985.82" stroke="#000" stroke-width="1.8"/>
<line x1="726.5" y1="1006.48" x2="731.5" y2="1006.48" stroke="#000" stroke-width="1.8"/>
<line x1="726.5" y1="1027.14" x2="731.5" y2="1027.14" stroke="#000" stroke-width="1.8"/>
<line x1="726.5" y1="1047.8" x2="731.5" y2="1047.8" stroke="#000" stroke-width="1.8"/>
<line x1="726.5" y1="1068.46" x2="731.5" y2="1068.46" stroke="#000" stroke-width="1.8"/>
<line x1="726.5" y1="1089.12" x2="731.5" y2="1089.12" stroke="#000" stroke-width="1.8"/>
<line x1="726.5" y1="1109.78" x2="731.5" y2="1109.78" stroke="#000" stroke-width="1.8"/>
<line x1="726.5" y1="1130.44" x2="731.5" y2="1130.44" stroke="#000" stroke-width="1.8"/>
<text transform="translate(838.2,710.6) scale(0.9260,1)" font-size="23" text-anchor="middle" class="b" xml:space="preserve">Dim 1</text>
<text transform="translate(846,1198) scale(0.9537,1)" font-size="23" text-anchor="middle" class="b" xml:space="preserve">Correlation</text>
<text transform="translate(741.5,1168.8)" font-size="19.6" text-anchor="middle" class="h" xml:space="preserve">−1.0</text>
<text transform="translate(788.3,1168.8)" font-size="19.6" text-anchor="middle" class="h" xml:space="preserve">−0.5</text>
<text transform="translate(835.1,1168.8)" font-size="19.6" text-anchor="middle" class="h" xml:space="preserve">0.0</text>
<text transform="translate(881.9,1168.8)" font-size="19.6" text-anchor="middle" class="h" xml:space="preserve">0.5</text>
<text transform="translate(928.7,1168.8)" font-size="19.6" text-anchor="middle" class="h" xml:space="preserve">1.0</text>
<text transform="translate(725.3,745.1)" font-size="20" text-anchor="end" class="h" xml:space="preserve">IGHJ6</text>
<circle cx="921.34" cy="737.9" r="6.3" fill="#4a7eb0"/>
<text transform="translate(725.3,765.76)" font-size="20" text-anchor="end" class="h" xml:space="preserve">IGLV3−25</text>
<circle cx="906.1" cy="758.56" r="6.3" fill="#4a7eb0"/>
<text transform="translate(725.3,786.42)" font-size="20" text-anchor="end" class="h" xml:space="preserve">IGLV2−14</text>
<circle cx="899.77" cy="779.22" r="6.3" fill="#4a7eb0"/>
<text transform="translate(725.3,807.08)" font-size="20" text-anchor="end" class="h" xml:space="preserve">IGLV6−57</text>
<circle cx="899.19" cy="799.88" r="6.3" fill="#4a7eb0"/>
<text transform="translate(725.3,827.74)" font-size="20" text-anchor="end" class="h" xml:space="preserve">IGLV1−36</text>
<circle cx="899.19" cy="820.54" r="6.3" fill="#4a7eb0"/>
<text transform="translate(725.3,848.4)" font-size="20" text-anchor="end" class="h" xml:space="preserve">IGLV3−9</text>
<circle cx="897.18" cy="841.2" r="6.3" fill="#4a7eb0"/>
<text transform="translate(725.3,869.06)" font-size="20" text-anchor="end" class="h" xml:space="preserve">IGLJ7</text>
<circle cx="896.89" cy="861.86" r="6.3" fill="#4a7eb0"/>
<text transform="translate(725.3,889.72)" font-size="20" text-anchor="end" class="h" xml:space="preserve">IGLJ3,IGLJ2</text>
<circle cx="896.61" cy="882.52" r="6.3" fill="#4a7eb0"/>
<text transform="translate(725.3,910.38)" font-size="20" text-anchor="end" class="h" xml:space="preserve">IGLV3−1</text>
<circle cx="895.46" cy="903.18" r="6.3" fill="#4a7eb0"/>
<text transform="translate(725.3,931.04)" font-size="20" text-anchor="end" class="h" xml:space="preserve">IGKV2−40,IGKV2D−40</text>
<circle cx="892.29" cy="923.84" r="6.3" fill="#4a7eb0"/>
<text transform="translate(725.3,951.7)" font-size="20" text-anchor="end" class="h" xml:space="preserve">IGHV3−11</text>
<circle cx="788.75" cy="944.5" r="6.3" fill="#4a7eb0"/>
<text transform="translate(725.3,972.36)" font-size="20" text-anchor="end" class="h" xml:space="preserve">IGHV3−43</text>
<circle cx="788.47" cy="965.16" r="6.3" fill="#4a7eb0"/>
<text transform="translate(725.3,993.02)" font-size="20" text-anchor="end" class="h" xml:space="preserve">IGHJ1</text>
<circle cx="787.89" cy="985.82" r="6.3" fill="#4a7eb0"/>
<text transform="translate(725.3,1013.68)" font-size="20" text-anchor="end" class="h" xml:space="preserve">IGKV2−30</text>
<circle cx="784.44" cy="1006.48" r="6.3" fill="#4a7eb0"/>
<text transform="translate(725.3,1034.34)" font-size="20" text-anchor="end" class="h" xml:space="preserve">IGKV1−5</text>
<circle cx="782.14" cy="1027.14" r="6.3" fill="#4a7eb0"/>
<text transform="translate(725.3,1055)" font-size="20" text-anchor="end" class="h" xml:space="preserve">IGHJ4</text>
<circle cx="780.41" cy="1047.8" r="6.3" fill="#4a7eb0"/>
<text transform="translate(725.3,1075.66)" font-size="20" text-anchor="end" class="h" xml:space="preserve">IGHV3−49</text>
<circle cx="776.96" cy="1068.46" r="6.3" fill="#4a7eb0"/>
<text transform="translate(725.3,1096.32)" font-size="20" text-anchor="end" class="h" xml:space="preserve">IGKJ1</text>
<circle cx="773.8" cy="1089.12" r="6.3" fill="#4a7eb0"/>
<text transform="translate(725.3,1116.98)" font-size="20" text-anchor="end" class="h" xml:space="preserve">IGHV3−48</text>
<circle cx="762.3" cy="1109.78" r="6.3" fill="#4a7eb0"/>
<text transform="translate(725.3,1137.64)" font-size="20" text-anchor="end" class="h" xml:space="preserve">IGHJ3</text>
<circle cx="755.68" cy="1130.44" r="6.3" fill="#4a7eb0"/>
<path d="M1192.1 725.8V1142H1397.8" fill="none" stroke="#000" stroke-width="1.8" stroke-linejoin="miter" stroke-linecap="butt"/>
<line x1="1201" y1="1142" x2="1201" y2="1147" stroke="#000" stroke-width="1.8"/>
<line x1="1247.8" y1="1142" x2="1247.8" y2="1147" stroke="#000" stroke-width="1.8"/>
<line x1="1294.6" y1="1142" x2="1294.6" y2="1147" stroke="#000" stroke-width="1.8"/>
<line x1="1341.4" y1="1142" x2="1341.4" y2="1147" stroke="#000" stroke-width="1.8"/>
<line x1="1388.2" y1="1142" x2="1388.2" y2="1147" stroke="#000" stroke-width="1.8"/>
<line x1="1187.1" y1="737.9" x2="1192.1" y2="737.9" stroke="#000" stroke-width="1.8"/>
<line x1="1187.1" y1="758.56" x2="1192.1" y2="758.56" stroke="#000" stroke-width="1.8"/>
<line x1="1187.1" y1="779.22" x2="1192.1" y2="779.22" stroke="#000" stroke-width="1.8"/>
<line x1="1187.1" y1="799.88" x2="1192.1" y2="799.88" stroke="#000" stroke-width="1.8"/>
<line x1="1187.1" y1="820.54" x2="1192.1" y2="820.54" stroke="#000" stroke-width="1.8"/>
<line x1="1187.1" y1="841.2" x2="1192.1" y2="841.2" stroke="#000" stroke-width="1.8"/>
<line x1="1187.1" y1="861.86" x2="1192.1" y2="861.86" stroke="#000" stroke-width="1.8"/>
<line x1="1187.1" y1="882.52" x2="1192.1" y2="882.52" stroke="#000" stroke-width="1.8"/>
<line x1="1187.1" y1="903.18" x2="1192.1" y2="903.18" stroke="#000" stroke-width="1.8"/>
<line x1="1187.1" y1="923.84" x2="1192.1" y2="923.84" stroke="#000" stroke-width="1.8"/>
<line x1="1187.1" y1="944.5" x2="1192.1" y2="944.5" stroke="#000" stroke-width="1.8"/>
<line x1="1187.1" y1="965.16" x2="1192.1" y2="965.16" stroke="#000" stroke-width="1.8"/>
<line x1="1187.1" y1="985.82" x2="1192.1" y2="985.82" stroke="#000" stroke-width="1.8"/>
<line x1="1187.1" y1="1006.48" x2="1192.1" y2="1006.48" stroke="#000" stroke-width="1.8"/>
<line x1="1187.1" y1="1027.14" x2="1192.1" y2="1027.14" stroke="#000" stroke-width="1.8"/>
<line x1="1187.1" y1="1047.8" x2="1192.1" y2="1047.8" stroke="#000" stroke-width="1.8"/>
<line x1="1187.1" y1="1068.46" x2="1192.1" y2="1068.46" stroke="#000" stroke-width="1.8"/>
<line x1="1187.1" y1="1089.12" x2="1192.1" y2="1089.12" stroke="#000" stroke-width="1.8"/>
<line x1="1187.1" y1="1109.78" x2="1192.1" y2="1109.78" stroke="#000" stroke-width="1.8"/>
<line x1="1187.1" y1="1130.44" x2="1192.1" y2="1130.44" stroke="#000" stroke-width="1.8"/>
<text transform="translate(1298.8,710.6) scale(0.9260,1)" font-size="23" text-anchor="middle" class="b" xml:space="preserve">Dim 2</text>
<text transform="translate(1306.6,1198) scale(0.9537,1)" font-size="23" text-anchor="middle" class="b" xml:space="preserve">Correlation</text>
<text transform="translate(1201.5,1168.8)" font-size="19.6" text-anchor="middle" class="h" xml:space="preserve">−1.0</text>
<text transform="translate(1248.3,1168.8)" font-size="19.6" text-anchor="middle" class="h" xml:space="preserve">−0.5</text>
<text transform="translate(1295.1,1168.8)" font-size="19.6" text-anchor="middle" class="h" xml:space="preserve">0.0</text>
<text transform="translate(1341.9,1168.8)" font-size="19.6" text-anchor="middle" class="h" xml:space="preserve">0.5</text>
<text transform="translate(1388.7,1168.8)" font-size="19.6" text-anchor="middle" class="h" xml:space="preserve">1.0</text>
<text transform="translate(1181.1,745.1) scale(0.9150,1)" font-size="19.7" text-anchor="end" xml:space="preserve">IGKJ2</text>
<circle cx="1371.27" cy="737.9" r="6.3" fill="#4a7eb0"/>
<text transform="translate(1181.1,765.76) scale(0.9150,1)" font-size="19.7" text-anchor="end" xml:space="preserve">IGLV10−54</text>
<circle cx="1358.33" cy="758.56" r="6.3" fill="#4a7eb0"/>
<text transform="translate(1181.1,786.42) scale(0.9150,1)" font-size="19.7" text-anchor="end" xml:space="preserve">IGKV1D−16</text>
<circle cx="1355.17" cy="779.22" r="6.3" fill="#4a7eb0"/>
<text transform="translate(1181.1,807.08) scale(0.9150,1)" font-size="19.7" text-anchor="end" xml:space="preserve">IGLV5−45</text>
<circle cx="1352.29" cy="799.88" r="6.3" fill="#4a7eb0"/>
<text transform="translate(1181.1,827.74) scale(0.9150,1)" font-size="19.7" text-anchor="end" xml:space="preserve">IGHV3−72</text>
<circle cx="1352.29" cy="820.54" r="6.3" fill="#4a7eb0"/>
<text transform="translate(1181.1,848.4) scale(0.9150,1)" font-size="19.7" text-anchor="end" xml:space="preserve">IGKV3−20</text>
<circle cx="1350.28" cy="841.2" r="6.3" fill="#4a7eb0"/>
<text transform="translate(1181.1,869.06) scale(0.9150,1)" font-size="19.7" text-anchor="end" xml:space="preserve">IGKV1−39,IGKV1D−39</text>
<circle cx="1349.13" cy="861.86" r="6.3" fill="#4a7eb0"/>
<text transform="translate(1181.1,889.72) scale(0.9150,1)" font-size="19.7" text-anchor="end" xml:space="preserve">IGHV4−59</text>
<circle cx="1345.68" cy="882.52" r="6.3" fill="#4a7eb0"/>
<text transform="translate(1181.1,910.38) scale(0.9150,1)" font-size="19.7" text-anchor="end" xml:space="preserve">IGKV1−8</text>
<circle cx="1345.1" cy="903.18" r="6.3" fill="#4a7eb0"/>
<text transform="translate(1181.1,931.04) scale(0.9150,1)" font-size="19.7" text-anchor="end" xml:space="preserve">IGKV2−28,IGKV2D−28</text>
<circle cx="1338.2" cy="923.84" r="6.3" fill="#4a7eb0"/>
<text transform="translate(1181.1,951.7) scale(0.9150,1)" font-size="19.7" text-anchor="end" xml:space="preserve">IGLV3−27</text>
<circle cx="1252.21" cy="944.5" r="6.3" fill="#4a7eb0"/>
<text transform="translate(1181.1,972.36) scale(0.9150,1)" font-size="19.7" text-anchor="end" xml:space="preserve">IGLV3−10</text>
<circle cx="1249.33" cy="965.16" r="6.3" fill="#4a7eb0"/>
<text transform="translate(1181.1,993.02) scale(0.9150,1)" font-size="19.7" text-anchor="end" xml:space="preserve">IGLJ3</text>
<circle cx="1248.47" cy="985.82" r="6.3" fill="#4a7eb0"/>
<text transform="translate(1181.1,1013.68) scale(0.9150,1)" font-size="19.7" text-anchor="end" xml:space="preserve">IGLJ1</text>
<circle cx="1248.18" cy="1006.48" r="6.3" fill="#4a7eb0"/>
<text transform="translate(1181.1,1034.34) scale(0.9150,1)" font-size="19.7" text-anchor="end" xml:space="preserve">IGHV3−9</text>
<circle cx="1247.6" cy="1027.14" r="6.3" fill="#4a7eb0"/>
<text transform="translate(1181.1,1055) scale(0.9150,1)" font-size="19.7" text-anchor="end" xml:space="preserve">IGLV2−23</text>
<circle cx="1247.6" cy="1047.8" r="6.3" fill="#4a7eb0"/>
<text transform="translate(1181.1,1075.66) scale(0.9150,1)" font-size="19.7" text-anchor="end" xml:space="preserve">IGHJ5</text>
<circle cx="1245.88" cy="1068.46" r="6.3" fill="#4a7eb0"/>
<text transform="translate(1181.1,1096.32) scale(0.9150,1)" font-size="19.7" text-anchor="end" xml:space="preserve">IGKV1−6</text>
<circle cx="1243" cy="1089.12" r="6.3" fill="#4a7eb0"/>
<text transform="translate(1181.1,1116.98) scale(0.9150,1)" font-size="19.7" text-anchor="end" xml:space="preserve">IGLV1−40</text>
<circle cx="1240.13" cy="1109.78" r="6.3" fill="#4a7eb0"/>
<text transform="translate(1181.1,1137.64) scale(0.9150,1)" font-size="19.7" text-anchor="end" xml:space="preserve">IGKV3−11</text>
<circle cx="1236.68" cy="1130.44" r="6.3" fill="#4a7eb0"/>
<text transform="translate(1450,649.5) scale(0.7725,1)" font-size="29.5" class="b" xml:space="preserve">E</text>
<text transform="translate(1723,668.3) scale(0.9020,1)" font-size="23" text-anchor="middle" class="b" xml:space="preserve">IGKC<tspan font-size="13.8" dy="-7.59">+</tspan><tspan dy="7.59"> Naive B</tspan></text>
<text transform="translate(1581.6,721.3) scale(0.9877,1)" font-size="23" text-anchor="middle" class="b" xml:space="preserve">IGHV3-48</text>
<text transform="translate(1785,721.3) scale(0.9779,1)" font-size="23" text-anchor="middle" class="b" xml:space="preserve">IGHV3-49</text>
<text transform="translate(1487.5,946.4) rotate(-90) scale(0.9644,1)" font-size="23" text-anchor="middle" class="b" xml:space="preserve">Proportion (%)</text>
<path d="M1517.6 743.4V1146.7H1676.4" fill="none" stroke="#000" stroke-width="1.8" stroke-linejoin="miter" stroke-linecap="butt"/>
<line x1="1547.2" y1="1146.7" x2="1547.2" y2="1150.7" stroke="#000" stroke-width="1.8"/>
<line x1="1597.1" y1="1146.7" x2="1597.1" y2="1150.7" stroke="#000" stroke-width="1.8"/>
<line x1="1647" y1="1146.7" x2="1647" y2="1150.7" stroke="#000" stroke-width="1.8"/>
<line x1="1513.6" y1="828.3" x2="1517.6" y2="828.3" stroke="#000" stroke-width="1.8"/>
<line x1="1513.6" y1="928.1" x2="1517.6" y2="928.1" stroke="#000" stroke-width="1.8"/>
<line x1="1513.6" y1="1027.9" x2="1517.6" y2="1027.9" stroke="#000" stroke-width="1.8"/>
<line x1="1513.6" y1="1127.7" x2="1517.6" y2="1127.7" stroke="#000" stroke-width="1.8"/>
<text transform="translate(1510.6,834.11) scale(0.9532,1)" font-size="18.42" text-anchor="end" xml:space="preserve">9</text>
<text transform="translate(1510.6,933.91) scale(0.9532,1)" font-size="18.42" text-anchor="end" xml:space="preserve">6</text>
<text transform="translate(1510.6,1033.71) scale(0.9532,1)" font-size="18.42" text-anchor="end" xml:space="preserve">3</text>
<text transform="translate(1510.6,1133.51) scale(0.9532,1)" font-size="18.42" text-anchor="end" xml:space="preserve">0</text>
<text transform="translate(1557.5,1167.7) rotate(-45) scale(0.9300,1)" font-size="20.5" text-anchor="end" xml:space="preserve">HC</text>
<text transform="translate(1607.4,1167.7) rotate(-45) scale(0.9300,1)" font-size="20.5" text-anchor="end" xml:space="preserve">SLE</text>
<text transform="translate(1657.3,1167.7) rotate(-45) scale(0.9300,1)" font-size="20.5" text-anchor="end" xml:space="preserve">LN</text>
<line x1="1547.44" y1="958.49" x2="1547.44" y2="1005.14" stroke="#000" stroke-width="2"/>
<line x1="1547.44" y1="1084.06" x2="1547.44" y2="1127.73" stroke="#000" stroke-width="2"/>
<rect x="1529.81" y="1005.14" width="35.26" height="78.93" fill="#4db848" stroke="#000" stroke-width="2"/>
<line x1="1529.81" y1="1035.24" x2="1565.07" y2="1035.24" stroke="#000" stroke-width="2"/>
<line x1="1597.07" y1="874.95" x2="1597.07" y2="904.51" stroke="#000" stroke-width="2"/>
<line x1="1597.07" y1="981.27" x2="1597.07" y2="1004.59" stroke="#000" stroke-width="2"/>
<rect x="1579.17" y="904.51" width="35.8" height="76.76" fill="#f89c33" stroke="#000" stroke-width="2"/>
<line x1="1579.17" y1="936.79" x2="1614.97" y2="936.79" stroke="#000" stroke-width="2"/>
<line x1="1646.57" y1="916.18" x2="1646.57" y2="924.04" stroke="#000" stroke-width="2"/>
<line x1="1646.57" y1="946.28" x2="1646.57" y2="948.72" stroke="#000" stroke-width="2"/>
<rect x="1628.81" y="924.04" width="35.53" height="22.24" fill="#f47b5f" stroke="#000" stroke-width="2"/>
<line x1="1628.81" y1="934.08" x2="1664.34" y2="934.08" stroke="#000" stroke-width="2"/>
<circle cx="1539.3" cy="957.94" r="3.4" fill="#000"/>
<circle cx="1555.03" cy="996.46" r="3.4" fill="#000"/>
<circle cx="1538.22" cy="1031.72" r="3.4" fill="#000"/>
<circle cx="1542.29" cy="1040.4" r="3.4" fill="#000"/>
<circle cx="1548.52" cy="1098.17" r="3.4" fill="#000"/>
<circle cx="1550.69" cy="1127.19" r="3.4" fill="#000"/>
<circle cx="1605.75" cy="874.95" r="3.4" fill="#000"/>
<circle cx="1592.73" cy="902.61" r="3.4" fill="#000"/>
<circle cx="1594.9" cy="911.29" r="3.4" fill="#000"/>
<circle cx="1587.85" cy="961.74" r="3.4" fill="#000"/>
<circle cx="1604.67" cy="987.24" r="3.4" fill="#000"/>
<circle cx="1602.5" cy="1003.51" r="3.4" fill="#000"/>
<circle cx="1645.62" cy="915.9" r="3.4" fill="#000"/>
<circle cx="1654.03" cy="922.69" r="3.4" fill="#000"/>
<circle cx="1647.52" cy="928.38" r="3.4" fill="#000"/>
<circle cx="1655.66" cy="940.59" r="3.4" fill="#000"/>
<circle cx="1645.62" cy="948.18" r="3.4" fill="#000"/>
<circle cx="1647.25" cy="1045.01" r="3.4" fill="#000"/>
<path d="M1547.17 856.78V848.64H1597.07V856.78" fill="none" stroke="#000" stroke-width="1.7" stroke-linejoin="round" stroke-linecap="round"/>
<text transform="translate(1574.02,841.04) scale(1.1600,1)" font-size="14.5" text-anchor="middle" class="s" xml:space="preserve">*</text>
<path d="M1547.17 823.42V814.74H1646.98V823.42" fill="none" stroke="#000" stroke-width="1.7" stroke-linejoin="round" stroke-linecap="round"/>
<text transform="translate(1598.97,807.14) scale(1.1600,1)" font-size="14.5" text-anchor="middle" class="s" xml:space="preserve">*</text>
<path d="M1597.07 790.33V781.65H1646.98V790.33" fill="none" stroke="#000" stroke-width="1.7" stroke-linejoin="round" stroke-linecap="round"/>
<text transform="translate(1624.2,777.65) scale(0.9800,1)" font-size="19.7" text-anchor="middle" xml:space="preserve">ns</text>
<path d="M1721.3 743.4V1146.7H1880" fill="none" stroke="#000" stroke-width="1.8" stroke-linejoin="miter" stroke-linecap="butt"/>
<line x1="1750.9" y1="1146.7" x2="1750.9" y2="1150.7" stroke="#000" stroke-width="1.8"/>
<line x1="1800.8" y1="1146.7" x2="1800.8" y2="1150.7" stroke="#000" stroke-width="1.8"/>
<line x1="1850.1" y1="1146.7" x2="1850.1" y2="1150.7" stroke="#000" stroke-width="1.8"/>
<line x1="1717.3" y1="828.3" x2="1721.3" y2="828.3" stroke="#000" stroke-width="1.8"/>
<line x1="1717.3" y1="928.1" x2="1721.3" y2="928.1" stroke="#000" stroke-width="1.8"/>
<line x1="1717.3" y1="1027.9" x2="1721.3" y2="1027.9" stroke="#000" stroke-width="1.8"/>
<line x1="1717.3" y1="1127.7" x2="1721.3" y2="1127.7" stroke="#000" stroke-width="1.8"/>
<text transform="translate(1714.3,834.11) scale(0.9532,1)" font-size="18.42" text-anchor="end" xml:space="preserve">9</text>
<text transform="translate(1714.3,933.91) scale(0.9532,1)" font-size="18.42" text-anchor="end" xml:space="preserve">6</text>
<text transform="translate(1714.3,1033.71) scale(0.9532,1)" font-size="18.42" text-anchor="end" xml:space="preserve">3</text>
<text transform="translate(1714.3,1133.51) scale(0.9532,1)" font-size="18.42" text-anchor="end" xml:space="preserve">0</text>
<text transform="translate(1761.2,1167.7) rotate(-45) scale(0.9300,1)" font-size="20.5" text-anchor="end" xml:space="preserve">HC</text>
<text transform="translate(1811.1,1167.7) rotate(-45) scale(0.9300,1)" font-size="20.5" text-anchor="end" xml:space="preserve">SLE</text>
<text transform="translate(1860.4,1167.7) rotate(-45) scale(0.9300,1)" font-size="20.5" text-anchor="end" xml:space="preserve">LN</text>
<line x1="1750.99" y1="1102.23" x2="1750.99" y2="1102.23" stroke="#000" stroke-width="2"/>
<line x1="1750.99" y1="1126.1" x2="1750.99" y2="1126.1" stroke="#000" stroke-width="2"/>
<rect x="1733.5" y="1102.23" width="34.99" height="23.87" fill="#4db848" stroke="#000" stroke-width="2"/>
<line x1="1733.5" y1="1115.52" x2="1768.49" y2="1115.52" stroke="#000" stroke-width="2"/>
<line x1="1800.63" y1="1049.35" x2="1800.63" y2="1052.6" stroke="#000" stroke-width="2"/>
<line x1="1800.63" y1="1072.94" x2="1800.63" y2="1081.08" stroke="#000" stroke-width="2"/>
<rect x="1782.86" y="1052.6" width="35.53" height="20.34" fill="#f89c33" stroke="#000" stroke-width="2"/>
<line x1="1782.86" y1="1066.16" x2="1818.39" y2="1066.16" stroke="#000" stroke-width="2"/>
<line x1="1850.26" y1="1066.16" x2="1850.26" y2="1067.79" stroke="#000" stroke-width="2"/>
<line x1="1850.26" y1="1087.59" x2="1850.26" y2="1115.8" stroke="#000" stroke-width="2"/>
<rect x="1832.5" y="1067.79" width="35.53" height="19.8" fill="#f47b5f" stroke="#000" stroke-width="2"/>
<line x1="1832.5" y1="1077.01" x2="1868.03" y2="1077.01" stroke="#000" stroke-width="2"/>
<circle cx="1742.72" cy="1097.9" r="3.4" fill="#000"/>
<circle cx="1752.21" cy="1098.98" r="3.4" fill="#000"/>
<circle cx="1745.98" cy="1114.17" r="3.4" fill="#000"/>
<circle cx="1758.72" cy="1117.69" r="3.4" fill="#000"/>
<circle cx="1741.91" cy="1128.81" r="3.4" fill="#000"/>
<circle cx="1754.38" cy="1128.54" r="3.4" fill="#000"/>
<circle cx="1796.15" cy="1015.44" r="3.4" fill="#000"/>
<circle cx="1791.27" cy="1048.8" r="3.4" fill="#000"/>
<circle cx="1808.09" cy="1063.45" r="3.4" fill="#000"/>
<circle cx="1798.86" cy="1069.42" r="3.4" fill="#000"/>
<circle cx="1809.17" cy="1073.49" r="3.4" fill="#000"/>
<circle cx="1805.92" cy="1081.35" r="3.4" fill="#000"/>
<circle cx="1850.94" cy="1037.95" r="3.4" fill="#000"/>
<circle cx="1849.31" cy="1067.79" r="3.4" fill="#000"/>
<circle cx="1850.94" cy="1070.5" r="3.4" fill="#000"/>
<circle cx="1849.31" cy="1083.25" r="3.4" fill="#000"/>
<circle cx="1857.72" cy="1088.67" r="3.4" fill="#000"/>
<circle cx="1858.8" cy="1116.07" r="3.4" fill="#000"/>
<path d="M1750.86 859.76V855.96H1800.76V859.76" fill="none" stroke="#000" stroke-width="1.7" stroke-linejoin="round" stroke-linecap="round"/>
<text transform="translate(1779.06,848.36) scale(1.1600,1)" font-size="14.5" text-anchor="middle" class="s" xml:space="preserve">**</text>
<path d="M1750.86 826.13V822.33H1850.12V826.13" fill="none" stroke="#000" stroke-width="1.7" stroke-linejoin="round" stroke-linecap="round"/>
<text transform="translate(1802.12,814.73) scale(1.1600,1)" font-size="14.5" text-anchor="middle" class="s" xml:space="preserve">*</text>
<path d="M1800.76 792.77V788.97H1850.12V792.77" fill="none" stroke="#000" stroke-width="1.7" stroke-linejoin="round" stroke-linecap="round"/>
<text transform="translate(1828.43,784.97) scale(0.9800,1)" font-size="19.7" text-anchor="middle" xml:space="preserve">ns</text>
<text transform="translate(0.5,1353) scale(0.8436,1)" font-size="29.5" class="b" xml:space="preserve">F</text>
<path d="M97.7 1341.9V1842.3H449.8" fill="none" stroke="#000" stroke-width="1.8" stroke-linejoin="miter" stroke-linecap="butt"/>
<line x1="147.7" y1="1842.3" x2="147.7" y2="1846.6" stroke="#000" stroke-width="1.8"/>
<line x1="231.5" y1="1842.3" x2="231.5" y2="1846.6" stroke="#000" stroke-width="1.8"/>
<line x1="315.4" y1="1842.3" x2="315.4" y2="1846.6" stroke="#000" stroke-width="1.8"/>
<line x1="399.3" y1="1842.3" x2="399.3" y2="1846.6" stroke="#000" stroke-width="1.8"/>
<line x1="93.4" y1="1485.6" x2="97.7" y2="1485.6" stroke="#000" stroke-width="1.8"/>
<line x1="93.4" y1="1637.6" x2="97.7" y2="1637.6" stroke="#000" stroke-width="1.8"/>
<line x1="93.4" y1="1789.6" x2="97.7" y2="1789.6" stroke="#000" stroke-width="1.8"/>
<text transform="translate(90.5,1491.71) scale(0.9532,1)" font-size="18.42" text-anchor="end" xml:space="preserve">1</text>
<text transform="translate(90.5,1643.71) scale(0.9532,1)" font-size="18.42" text-anchor="end" xml:space="preserve">0</text>
<text transform="translate(90.5,1795.71) scale(0.9532,1)" font-size="18.42" text-anchor="end" xml:space="preserve">−1</text>
<text transform="translate(65.5,1652.5) rotate(-90) scale(0.8717,1)" font-size="23" text-anchor="middle" class="b" xml:space="preserve">ABC score</text>
<text transform="translate(164,1867.6) rotate(-45) scale(0.8647,1)" font-size="19.7" text-anchor="end" xml:space="preserve">IGKC<tspan font-size="11.82" dy="-6.5">+</tspan><tspan dy="6.5"> Naive B</tspan></text>
<text transform="translate(243.7,1867.6) rotate(-45) scale(0.8764,1)" font-size="19.7" text-anchor="end" xml:space="preserve">IGLC2<tspan font-size="11.82" dy="-6.5">+</tspan><tspan dy="6.5"> Naive B</tspan></text>
<text transform="translate(324.4,1863.1) rotate(-45) scale(0.9426,1)" font-size="19.7" text-anchor="end" xml:space="preserve">Memory B</text>
<text transform="translate(411.3,1863.1) rotate(-45) scale(0.9078,1)" font-size="19.7" text-anchor="end" xml:space="preserve">Active B</text>
<line x1="125.34" y1="1559.06" x2="125.34" y2="1629.87" stroke="#000" stroke-width="1.8"/>
<line x1="125.34" y1="1680.2" x2="125.34" y2="1754.7" stroke="#000" stroke-width="1.8"/>
<rect x="115.27" y="1629.87" width="20.13" height="50.34" fill="#4db848" stroke="#000" stroke-width="1.8"/>
<line x1="115.27" y1="1654.7" x2="135.4" y2="1654.7" stroke="#000" stroke-width="1.8"/>
<circle cx="125.34" cy="1540.27" r="3.4" fill="#000"/>
<circle cx="125.34" cy="1551.01" r="3.4" fill="#000"/>
<circle cx="125.34" cy="1758.05" r="3.4" fill="#000"/>
<circle cx="125.34" cy="1761.41" r="3.4" fill="#000"/>
<circle cx="125.34" cy="1764.77" r="3.4" fill="#000"/>
<circle cx="125.34" cy="1775.84" r="3.4" fill="#000"/>
<circle cx="125.34" cy="1783.22" r="3.4" fill="#000"/>
<circle cx="125.34" cy="1788.26" r="3.4" fill="#000"/>
<line x1="147.65" y1="1578.52" x2="147.65" y2="1646.64" stroke="#000" stroke-width="1.8"/>
<line x1="147.65" y1="1691.95" x2="147.65" y2="1761.41" stroke="#000" stroke-width="1.8"/>
<rect x="137.58" y="1646.64" width="20.13" height="45.3" fill="#f89c33" stroke="#000" stroke-width="1.8"/>
<line x1="137.58" y1="1669.46" x2="157.72" y2="1669.46" stroke="#000" stroke-width="1.8"/>
<circle cx="147.65" cy="1548.32" r="3.4" fill="#000"/>
<circle cx="147.65" cy="1556.71" r="3.4" fill="#000"/>
<circle cx="147.65" cy="1560.07" r="3.4" fill="#000"/>
<circle cx="147.65" cy="1568.46" r="3.4" fill="#000"/>
<circle cx="147.65" cy="1573.49" r="3.4" fill="#000"/>
<circle cx="147.65" cy="1575.84" r="3.4" fill="#000"/>
<circle cx="147.65" cy="1763.76" r="3.4" fill="#000"/>
<circle cx="147.65" cy="1767.11" r="3.4" fill="#000"/>
<circle cx="147.65" cy="1770.47" r="3.4" fill="#000"/>
<circle cx="147.65" cy="1773.83" r="3.4" fill="#000"/>
<circle cx="147.65" cy="1777.18" r="3.4" fill="#000"/>
<circle cx="147.65" cy="1780.54" r="3.4" fill="#000"/>
<circle cx="147.65" cy="1783.22" r="3.4" fill="#000"/>
<circle cx="147.65" cy="1792.62" r="3.4" fill="#000"/>
<line x1="170.13" y1="1575.17" x2="170.13" y2="1640.27" stroke="#000" stroke-width="1.8"/>
<line x1="170.13" y1="1684.9" x2="170.13" y2="1753.02" stroke="#000" stroke-width="1.8"/>
<rect x="160.07" y="1640.27" width="20.13" height="44.63" fill="#f47b5f" stroke="#000" stroke-width="1.8"/>
<line x1="160.07" y1="1663.09" x2="180.2" y2="1663.09" stroke="#000" stroke-width="1.8"/>
<circle cx="170.13" cy="1545.64" r="3.4" fill="#000"/>
<circle cx="170.13" cy="1548.99" r="3.4" fill="#000"/>
<circle cx="170.13" cy="1563.42" r="3.4" fill="#000"/>
<circle cx="170.13" cy="1565.1" r="3.4" fill="#000"/>
<circle cx="170.13" cy="1754.36" r="3.4" fill="#000"/>
<circle cx="170.13" cy="1773.15" r="3.4" fill="#000"/>
<path d="M127.52 1431.88V1425.84H153.02V1431.88" fill="none" stroke="#000" stroke-width="1.7" stroke-linejoin="round" stroke-linecap="round"/>
<text transform="translate(139.93,1419.84) scale(1.1600,1)" font-size="14.5" text-anchor="middle" class="s" xml:space="preserve">****</text>
<path d="M127.52 1406.38V1400H178.52V1406.38" fill="none" stroke="#000" stroke-width="1.7" stroke-linejoin="round" stroke-linecap="round"/>
<text transform="translate(155.37,1394) scale(1.1600,1)" font-size="14.5" text-anchor="middle" class="s" xml:space="preserve">****</text>
<path d="M153.69 1377.18V1370.81H179.19V1377.18" fill="none" stroke="#000" stroke-width="1.7" stroke-linejoin="round" stroke-linecap="round"/>
<text transform="translate(165.44,1364.81) scale(1.1600,1)" font-size="14.5" text-anchor="middle" class="s" xml:space="preserve">****</text>
<line x1="209.23" y1="1567.45" x2="209.23" y2="1629.19" stroke="#000" stroke-width="1.8"/>
<line x1="209.23" y1="1676.85" x2="209.23" y2="1749.66" stroke="#000" stroke-width="1.8"/>
<rect x="199.16" y="1629.19" width="20.13" height="47.65" fill="#4db848" stroke="#000" stroke-width="1.8"/>
<line x1="199.16" y1="1654.36" x2="219.3" y2="1654.36" stroke="#000" stroke-width="1.8"/>
<circle cx="209.23" cy="1550" r="3.4" fill="#000"/>
<circle cx="209.23" cy="1556.71" r="3.4" fill="#000"/>
<circle cx="209.23" cy="1751.34" r="3.4" fill="#000"/>
<circle cx="209.23" cy="1756.38" r="3.4" fill="#000"/>
<circle cx="209.23" cy="1765.1" r="3.4" fill="#000"/>
<circle cx="209.23" cy="1779.87" r="3.4" fill="#000"/>
<line x1="231.54" y1="1578.52" x2="231.54" y2="1646.98" stroke="#000" stroke-width="1.8"/>
<line x1="231.54" y1="1692.62" x2="231.54" y2="1763.09" stroke="#000" stroke-width="1.8"/>
<rect x="221.48" y="1646.98" width="20.13" height="45.64" fill="#f89c33" stroke="#000" stroke-width="1.8"/>
<line x1="221.48" y1="1670.47" x2="241.61" y2="1670.47" stroke="#000" stroke-width="1.8"/>
<circle cx="231.54" cy="1519.13" r="3.4" fill="#000"/>
<circle cx="231.54" cy="1542.62" r="3.4" fill="#000"/>
<circle cx="231.54" cy="1567.45" r="3.4" fill="#000"/>
<circle cx="231.54" cy="1570.13" r="3.4" fill="#000"/>
<circle cx="231.54" cy="1575.17" r="3.4" fill="#000"/>
<circle cx="231.54" cy="1764.09" r="3.4" fill="#000"/>
<circle cx="231.54" cy="1766.44" r="3.4" fill="#000"/>
<circle cx="231.54" cy="1772.48" r="3.4" fill="#000"/>
<line x1="254.03" y1="1570.13" x2="254.03" y2="1636.91" stroke="#000" stroke-width="1.8"/>
<line x1="254.03" y1="1681.88" x2="254.03" y2="1747.99" stroke="#000" stroke-width="1.8"/>
<rect x="243.96" y="1636.91" width="20.13" height="44.97" fill="#f47b5f" stroke="#000" stroke-width="1.8"/>
<line x1="243.96" y1="1659.06" x2="264.09" y2="1659.06" stroke="#000" stroke-width="1.8"/>
<circle cx="254.03" cy="1552.35" r="3.4" fill="#000"/>
<circle cx="254.03" cy="1565.1" r="3.4" fill="#000"/>
<circle cx="254.03" cy="1567.45" r="3.4" fill="#000"/>
<circle cx="254.03" cy="1749.66" r="3.4" fill="#000"/>
<circle cx="254.03" cy="1754.7" r="3.4" fill="#000"/>
<circle cx="254.03" cy="1759.73" r="3.4" fill="#000"/>
<circle cx="254.03" cy="1762.08" r="3.4" fill="#000"/>
<circle cx="254.03" cy="1771.48" r="3.4" fill="#000"/>
<circle cx="254.03" cy="1786.24" r="3.4" fill="#000"/>
<path d="M208.72 1431.88V1425.84H234.23V1431.88" fill="none" stroke="#000" stroke-width="1.7" stroke-linejoin="round" stroke-linecap="round"/>
<text transform="translate(220.81,1419.84) scale(1.1600,1)" font-size="14.5" text-anchor="middle" class="s" xml:space="preserve">****</text>
<path d="M208.72 1406.38V1400H259.73V1406.38" fill="none" stroke="#000" stroke-width="1.7" stroke-linejoin="round" stroke-linecap="round"/>
<text transform="translate(236.58,1394) scale(1.1600,1)" font-size="14.5" text-anchor="middle" class="s" xml:space="preserve">****</text>
<path d="M234.56 1377.18V1370.81H260.4V1377.18" fill="none" stroke="#000" stroke-width="1.7" stroke-linejoin="round" stroke-linecap="round"/>
<text transform="translate(246.64,1364.81) scale(1.1600,1)" font-size="14.5" text-anchor="middle" class="s" xml:space="preserve">****</text>
<line x1="293.12" y1="1538.93" x2="293.12" y2="1601.01" stroke="#000" stroke-width="1.8"/>
<line x1="293.12" y1="1645.64" x2="293.12" y2="1711.07" stroke="#000" stroke-width="1.8"/>
<rect x="283.05" y="1601.01" width="20.13" height="44.63" fill="#4db848" stroke="#000" stroke-width="1.8"/>
<line x1="283.05" y1="1624.5" x2="303.19" y2="1624.5" stroke="#000" stroke-width="1.8"/>
<circle cx="293.12" cy="1521.48" r="3.4" fill="#000"/>
<circle cx="293.12" cy="1528.19" r="3.4" fill="#000"/>
<circle cx="293.12" cy="1531.54" r="3.4" fill="#000"/>
<circle cx="293.12" cy="1533.22" r="3.4" fill="#000"/>
<circle cx="293.12" cy="1713.42" r="3.4" fill="#000"/>
<circle cx="293.12" cy="1717.79" r="3.4" fill="#000"/>
<circle cx="293.12" cy="1721.14" r="3.4" fill="#000"/>
<circle cx="293.12" cy="1729.53" r="3.4" fill="#000"/>
<circle cx="293.12" cy="1734.56" r="3.4" fill="#000"/>
<circle cx="293.12" cy="1748.99" r="3.4" fill="#000"/>
<circle cx="293.12" cy="1759.73" r="3.4" fill="#000"/>
<line x1="315.44" y1="1538.93" x2="315.44" y2="1607.05" stroke="#000" stroke-width="1.8"/>
<line x1="315.44" y1="1653.02" x2="315.44" y2="1724.5" stroke="#000" stroke-width="1.8"/>
<rect x="305.37" y="1607.05" width="20.13" height="45.97" fill="#f89c33" stroke="#000" stroke-width="1.8"/>
<line x1="305.37" y1="1630.87" x2="325.5" y2="1630.87" stroke="#000" stroke-width="1.8"/>
<circle cx="315.44" cy="1515.1" r="3.4" fill="#000"/>
<circle cx="315.44" cy="1521.48" r="3.4" fill="#000"/>
<circle cx="315.44" cy="1524.16" r="3.4" fill="#000"/>
<circle cx="315.44" cy="1530.87" r="3.4" fill="#000"/>
<circle cx="315.44" cy="1726.17" r="3.4" fill="#000"/>
<circle cx="315.44" cy="1729.53" r="3.4" fill="#000"/>
<circle cx="315.44" cy="1739.6" r="3.4" fill="#000"/>
<circle cx="315.44" cy="1746.98" r="3.4" fill="#000"/>
<line x1="337.92" y1="1540.94" x2="337.92" y2="1607.05" stroke="#000" stroke-width="1.8"/>
<line x1="337.92" y1="1652.68" x2="337.92" y2="1716.11" stroke="#000" stroke-width="1.8"/>
<rect x="327.85" y="1607.05" width="20.13" height="45.64" fill="#f47b5f" stroke="#000" stroke-width="1.8"/>
<line x1="327.85" y1="1629.19" x2="347.99" y2="1629.19" stroke="#000" stroke-width="1.8"/>
<circle cx="337.92" cy="1532.21" r="3.4" fill="#000"/>
<circle cx="337.92" cy="1534.9" r="3.4" fill="#000"/>
<circle cx="337.92" cy="1537.58" r="3.4" fill="#000"/>
<circle cx="337.92" cy="1720.81" r="3.4" fill="#000"/>
<path d="M290.6 1431.88V1425.84H316.11V1431.88" fill="none" stroke="#000" stroke-width="1.7" stroke-linejoin="round" stroke-linecap="round"/>
<text transform="translate(302.68,1419.84) scale(1.1600,1)" font-size="14.5" text-anchor="middle" class="s" xml:space="preserve">****</text>
<path d="M290.6 1406.38V1400H341.95V1406.38" fill="none" stroke="#000" stroke-width="1.7" stroke-linejoin="round" stroke-linecap="round"/>
<text transform="translate(318.46,1394) scale(1.1600,1)" font-size="14.5" text-anchor="middle" class="s" xml:space="preserve">****</text>
<path d="M316.44 1377.18V1370.81H342.28V1377.18" fill="none" stroke="#000" stroke-width="1.7" stroke-linejoin="round" stroke-linecap="round"/>
<text transform="translate(328.52,1366.31) scale(0.9800,1)" font-size="19.7" text-anchor="middle" xml:space="preserve">ns</text>
<line x1="377.01" y1="1481.88" x2="377.01" y2="1540.94" stroke="#000" stroke-width="1.8"/>
<line x1="377.01" y1="1594.3" x2="377.01" y2="1667.45" stroke="#000" stroke-width="1.8"/>
<rect x="366.95" y="1540.94" width="20.13" height="53.36" fill="#4db848" stroke="#000" stroke-width="1.8"/>
<line x1="366.95" y1="1566.78" x2="387.08" y2="1566.78" stroke="#000" stroke-width="1.8"/>
<line x1="399.33" y1="1445.97" x2="399.33" y2="1506.04" stroke="#000" stroke-width="1.8"/>
<line x1="399.33" y1="1574.83" x2="399.33" y2="1663.42" stroke="#000" stroke-width="1.8"/>
<rect x="389.26" y="1506.04" width="20.13" height="68.79" fill="#f89c33" stroke="#000" stroke-width="1.8"/>
<line x1="389.26" y1="1533.56" x2="409.4" y2="1533.56" stroke="#000" stroke-width="1.8"/>
<circle cx="399.33" cy="1679.87" r="3.4" fill="#000"/>
<circle cx="399.33" cy="1692.62" r="3.4" fill="#000"/>
<line x1="421.81" y1="1444.63" x2="421.81" y2="1522.82" stroke="#000" stroke-width="1.8"/>
<line x1="421.81" y1="1585.91" x2="421.81" y2="1665.44" stroke="#000" stroke-width="1.8"/>
<rect x="411.74" y="1522.82" width="20.13" height="63.09" fill="#f47b5f" stroke="#000" stroke-width="1.8"/>
<line x1="411.74" y1="1555.37" x2="431.88" y2="1555.37" stroke="#000" stroke-width="1.8"/>
<path d="M372.15 1431.88V1425.84H397.99V1431.88" fill="none" stroke="#000" stroke-width="1.7" stroke-linejoin="round" stroke-linecap="round"/>
<text transform="translate(384.23,1419.84) scale(1.1600,1)" font-size="14.5" text-anchor="middle" class="s" xml:space="preserve">****</text>
<path d="M372.15 1406.38V1400H423.49V1406.38" fill="none" stroke="#000" stroke-width="1.7" stroke-linejoin="round" stroke-linecap="round"/>
<text transform="translate(397.65,1394) scale(1.1600,1)" font-size="14.5" text-anchor="middle" class="s" xml:space="preserve">***</text>
<path d="M398.32 1377.18V1370.81H424.16V1377.18" fill="none" stroke="#000" stroke-width="1.7" stroke-linejoin="round" stroke-linecap="round"/>
<text transform="translate(412.08,1364.81) scale(1.1600,1)" font-size="14.5" text-anchor="middle" class="s" xml:space="preserve">**</text>
<text transform="translate(463.8,1741.6) scale(0.9495,1)" font-size="23" class="b" xml:space="preserve">Group</text>
<line x1="482.3" y1="1752.9" x2="482.3" y2="1772.4" stroke="#000" stroke-width="1.5"/>
<rect x="472.8" y="1755.9" width="19" height="13.2" fill="#4db848" stroke="#000" stroke-width="1.5"/>
<line x1="472.8" y1="1762.5" x2="491.8" y2="1762.5" stroke="#000" stroke-width="1.5"/>
<text transform="translate(503.4,1768.1) scale(0.8259,1)" font-size="19.7" xml:space="preserve">HC</text>
<line x1="482.3" y1="1777.1" x2="482.3" y2="1796.6" stroke="#000" stroke-width="1.5"/>
<rect x="472.8" y="1780.1" width="19" height="13.2" fill="#f89c33" stroke="#000" stroke-width="1.5"/>
<line x1="472.8" y1="1786.7" x2="491.8" y2="1786.7" stroke="#000" stroke-width="1.5"/>
<text transform="translate(503.4,1792.3) scale(0.7385,1)" font-size="19.7" xml:space="preserve">SLE</text>
<line x1="482.3" y1="1801.3" x2="482.3" y2="1820.8" stroke="#000" stroke-width="1.5"/>
<rect x="472.8" y="1804.3" width="19" height="13.2" fill="#f47b5f" stroke="#000" stroke-width="1.5"/>
<line x1="472.8" y1="1810.9" x2="491.8" y2="1810.9" stroke="#000" stroke-width="1.5"/>
<text transform="translate(503.4,1816.5) scale(0.8220,1)" font-size="19.7" xml:space="preserve">LN</text>
<text transform="translate(581.8,1353.8) scale(0.8803,1)" font-size="29.5" class="b" xml:space="preserve">G</text>
<text transform="translate(637.5,1610.6) rotate(-90) scale(0.8995,1)" font-size="23" text-anchor="middle" class="b" xml:space="preserve">Score</text>
<text transform="translate(693.1,1377.7) scale(0.9243,1)" font-size="24.3" xml:space="preserve">Positive regulation of</text>
<text transform="translate(693.1,1406) scale(0.9267,1)" font-size="24.3" xml:space="preserve">isotypes switching to</text>
<text transform="translate(693.1,1434.3) scale(0.8962,1)" font-size="24.3" xml:space="preserve">iga isotypes</text>
<path d="M693.1 1466.8V1810.7H887.9" fill="none" stroke="#000" stroke-width="1.8" stroke-linejoin="miter" stroke-linecap="butt"/>
<line x1="729.1" y1="1810.7" x2="729.1" y2="1816.2" stroke="#000" stroke-width="1.8"/>
<line x1="790.4" y1="1810.7" x2="790.4" y2="1816.2" stroke="#000" stroke-width="1.8"/>
<line x1="851.4" y1="1810.7" x2="851.4" y2="1816.2" stroke="#000" stroke-width="1.8"/>
<line x1="687.6" y1="1560.7" x2="693.1" y2="1560.7" stroke="#000" stroke-width="1.8"/>
<line x1="687.6" y1="1676.5" x2="693.1" y2="1676.5" stroke="#000" stroke-width="1.8"/>
<line x1="687.6" y1="1792.3" x2="693.1" y2="1792.3" stroke="#000" stroke-width="1.8"/>
<text transform="translate(685.8,1567.8)" font-size="20.3" text-anchor="end" class="h" xml:space="preserve">0.5</text>
<text transform="translate(685.8,1683.6)" font-size="20.3" text-anchor="end" class="h" xml:space="preserve">0.0</text>
<text transform="translate(685.8,1799.4)" font-size="20.3" text-anchor="end" class="h" xml:space="preserve">−0.5</text>
<text transform="translate(738.1,1830.2) rotate(-45) scale(0.8400,1)" font-size="19.7" text-anchor="end" xml:space="preserve">HC</text>
<text transform="translate(799.4,1830.2) rotate(-45) scale(0.8400,1)" font-size="19.7" text-anchor="end" xml:space="preserve">SLE</text>
<text transform="translate(860.4,1830.2) rotate(-45) scale(0.8400,1)" font-size="19.7" text-anchor="end" xml:space="preserve">LN</text>
<line x1="729.1" y1="1635.12" x2="729.1" y2="1699.54" stroke="#000" stroke-width="1.8"/>
<line x1="729.1" y1="1758.97" x2="729.1" y2="1782.36" stroke="#000" stroke-width="1.8"/>
<rect x="707.62" y="1699.54" width="42.94" height="59.43" fill="#4db848" stroke="#000" stroke-width="1.8"/>
<line x1="707.62" y1="1730.98" x2="750.57" y2="1730.98" stroke="#000" stroke-width="1.8"/>
<circle cx="729.1" cy="1587.19" r="3.9" fill="#000"/>
<circle cx="729.1" cy="1604.83" r="3.9" fill="#000"/>
<line x1="790.44" y1="1606.75" x2="790.44" y2="1680.37" stroke="#000" stroke-width="1.8"/>
<line x1="790.44" y1="1730.21" x2="790.44" y2="1788.88" stroke="#000" stroke-width="1.8"/>
<rect x="768.97" y="1680.37" width="42.94" height="49.85" fill="#f89c33" stroke="#000" stroke-width="1.8"/>
<line x1="768.97" y1="1705.67" x2="811.92" y2="1705.67" stroke="#000" stroke-width="1.8"/>
<circle cx="790.44" cy="1552.3" r="3.9" fill="#000"/>
<circle cx="790.44" cy="1569.17" r="3.9" fill="#000"/>
<circle cx="790.44" cy="1584.51" r="3.9" fill="#000"/>
<circle cx="790.44" cy="1604.83" r="3.9" fill="#000"/>
<circle cx="790.44" cy="1606.75" r="3.9" fill="#000"/>
<line x1="851.41" y1="1585.66" x2="851.41" y2="1672.7" stroke="#000" stroke-width="1.8"/>
<line x1="851.41" y1="1733.28" x2="851.41" y2="1794.63" stroke="#000" stroke-width="1.8"/>
<rect x="829.94" y="1672.7" width="42.94" height="60.58" fill="#f47b5f" stroke="#000" stroke-width="1.8"/>
<line x1="829.94" y1="1702.22" x2="872.88" y2="1702.22" stroke="#000" stroke-width="1.8"/>
<circle cx="851.41" cy="1554.6" r="3.9" fill="#000"/>
<path d="M729.1 1548.08V1540.03H790.44V1548.08" fill="none" stroke="#000" stroke-width="1.7" stroke-linejoin="round" stroke-linecap="round"/>
<text transform="translate(763.6,1532.63) scale(1.1600,1)" font-size="14.5" text-anchor="middle" class="s" xml:space="preserve">****</text>
<path d="M729.1 1519.33V1511.27H851.41V1519.33" fill="none" stroke="#000" stroke-width="1.7" stroke-linejoin="round" stroke-linecap="round"/>
<text transform="translate(793.51,1503.87) scale(1.1600,1)" font-size="14.5" text-anchor="middle" class="s" xml:space="preserve">****</text>
<path d="M790.44 1489.8V1481.75H851.41V1489.8" fill="none" stroke="#000" stroke-width="1.7" stroke-linejoin="round" stroke-linecap="round"/>
<text transform="translate(821.12,1478.25) scale(0.9800,1)" font-size="19.7" text-anchor="middle" xml:space="preserve">ns</text>
<text transform="translate(980.6,1377.7) scale(0.9243,1)" font-size="24.3" xml:space="preserve">Positive regulation of</text>
<text transform="translate(980.6,1406) scale(0.9267,1)" font-size="24.3" xml:space="preserve">isotypes switching to</text>
<text transform="translate(980.6,1434.3) scale(0.9118,1)" font-size="24.3" xml:space="preserve">igg isotypes</text>
<path d="M980.6 1466.8V1810.7H1175.4" fill="none" stroke="#000" stroke-width="1.8" stroke-linejoin="miter" stroke-linecap="butt"/>
<line x1="1016.3" y1="1810.7" x2="1016.3" y2="1816.2" stroke="#000" stroke-width="1.8"/>
<line x1="1077.6" y1="1810.7" x2="1077.6" y2="1816.2" stroke="#000" stroke-width="1.8"/>
<line x1="1138.6" y1="1810.7" x2="1138.6" y2="1816.2" stroke="#000" stroke-width="1.8"/>
<line x1="975.1" y1="1528.1" x2="980.6" y2="1528.1" stroke="#000" stroke-width="1.8"/>
<line x1="975.1" y1="1615.2" x2="980.6" y2="1615.2" stroke="#000" stroke-width="1.8"/>
<line x1="975.1" y1="1701.8" x2="980.6" y2="1701.8" stroke="#000" stroke-width="1.8"/>
<line x1="975.1" y1="1788.9" x2="980.6" y2="1788.9" stroke="#000" stroke-width="1.8"/>
<text transform="translate(973.3,1535.2)" font-size="20.3" text-anchor="end" class="h" xml:space="preserve">0.50</text>
<text transform="translate(973.3,1622.3)" font-size="20.3" text-anchor="end" class="h" xml:space="preserve">0.25</text>
<text transform="translate(973.3,1708.9)" font-size="20.3" text-anchor="end" class="h" xml:space="preserve">0.00</text>
<text transform="translate(973.3,1796)" font-size="20.3" text-anchor="end" class="h" xml:space="preserve">−0.25</text>
<text transform="translate(1025.3,1830.2) rotate(-45) scale(0.8400,1)" font-size="19.7" text-anchor="end" xml:space="preserve">HC</text>
<text transform="translate(1086.6,1830.2) rotate(-45) scale(0.8400,1)" font-size="19.7" text-anchor="end" xml:space="preserve">SLE</text>
<text transform="translate(1147.6,1830.2) rotate(-45) scale(0.8400,1)" font-size="19.7" text-anchor="end" xml:space="preserve">LN</text>
<line x1="1016.29" y1="1609.82" x2="1016.29" y2="1677.68" stroke="#000" stroke-width="1.8"/>
<line x1="1016.29" y1="1724.85" x2="1016.29" y2="1790.03" stroke="#000" stroke-width="1.8"/>
<rect x="994.82" y="1677.68" width="42.94" height="47.16" fill="#4db848" stroke="#000" stroke-width="1.8"/>
<line x1="994.82" y1="1699.16" x2="1037.76" y2="1699.16" stroke="#000" stroke-width="1.8"/>
<circle cx="1016.29" cy="1588.34" r="3.9" fill="#000"/>
<circle cx="1016.29" cy="1593.33" r="3.9" fill="#000"/>
<circle cx="1016.29" cy="1606.75" r="3.9" fill="#000"/>
<line x1="1077.64" y1="1596.01" x2="1077.64" y2="1656.21" stroke="#000" stroke-width="1.8"/>
<line x1="1077.64" y1="1707.98" x2="1077.64" y2="1772.39" stroke="#000" stroke-width="1.8"/>
<rect x="1056.17" y="1656.21" width="42.94" height="51.76" fill="#f89c33" stroke="#000" stroke-width="1.8"/>
<line x1="1056.17" y1="1683.82" x2="1099.11" y2="1683.82" stroke="#000" stroke-width="1.8"/>
<circle cx="1077.64" cy="1571.47" r="3.9" fill="#000"/>
<circle cx="1077.64" cy="1795.02" r="3.9" fill="#000"/>
<line x1="1138.6" y1="1579.14" x2="1138.6" y2="1661.2" stroke="#000" stroke-width="1.8"/>
<line x1="1138.6" y1="1718.33" x2="1138.6" y2="1786.96" stroke="#000" stroke-width="1.8"/>
<rect x="1117.13" y="1661.2" width="42.94" height="57.13" fill="#f47b5f" stroke="#000" stroke-width="1.8"/>
<line x1="1117.13" y1="1689.95" x2="1160.08" y2="1689.95" stroke="#000" stroke-width="1.8"/>
<circle cx="1138.6" cy="1552.3" r="3.9" fill="#000"/>
<path d="M1016.29 1548.08V1540.03H1077.64V1548.08" fill="none" stroke="#000" stroke-width="1.7" stroke-linejoin="round" stroke-linecap="round"/>
<text transform="translate(1050.8,1532.63) scale(1.1600,1)" font-size="14.5" text-anchor="middle" class="s" xml:space="preserve">****</text>
<path d="M1016.29 1519.33V1511.27H1138.6V1519.33" fill="none" stroke="#000" stroke-width="1.7" stroke-linejoin="round" stroke-linecap="round"/>
<text transform="translate(1077.64,1503.87) scale(1.1600,1)" font-size="14.5" text-anchor="middle" class="s" xml:space="preserve">*</text>
<path d="M1077.64 1489.8V1481.75H1138.6V1489.8" fill="none" stroke="#000" stroke-width="1.7" stroke-linejoin="round" stroke-linecap="round"/>
<text transform="translate(1108.7,1474.35) scale(1.1600,1)" font-size="14.5" text-anchor="middle" class="s" xml:space="preserve">*</text>
<text transform="translate(1271.3,1377.7) scale(0.9677,1)" font-size="24.3" xml:space="preserve">Immunoglobulin</text>
<text transform="translate(1271.3,1406) scale(0.9650,1)" font-size="24.3" xml:space="preserve">production</text>
<path d="M1271.3 1466.2V1810.5H1466.1" fill="none" stroke="#000" stroke-width="1.8" stroke-linejoin="miter" stroke-linecap="butt"/>
<line x1="1307.6" y1="1810.5" x2="1307.6" y2="1816" stroke="#000" stroke-width="1.8"/>
<line x1="1368.7" y1="1810.5" x2="1368.7" y2="1816" stroke="#000" stroke-width="1.8"/>
<line x1="1429.8" y1="1810.5" x2="1429.8" y2="1816" stroke="#000" stroke-width="1.8"/>
<line x1="1265.8" y1="1498.8" x2="1271.3" y2="1498.8" stroke="#000" stroke-width="1.8"/>
<line x1="1265.8" y1="1623.1" x2="1271.3" y2="1623.1" stroke="#000" stroke-width="1.8"/>
<line x1="1265.8" y1="1747" x2="1271.3" y2="1747" stroke="#000" stroke-width="1.8"/>
<text transform="translate(1264,1505.9)" font-size="20.3" text-anchor="end" class="h" xml:space="preserve">0.2</text>
<text transform="translate(1264,1630.2)" font-size="20.3" text-anchor="end" class="h" xml:space="preserve">0.1</text>
<text transform="translate(1264,1754.1)" font-size="20.3" text-anchor="end" class="h" xml:space="preserve">0.0</text>
<text transform="translate(1316.6,1830) rotate(-45) scale(0.8400,1)" font-size="19.7" text-anchor="end" xml:space="preserve">HC</text>
<text transform="translate(1377.7,1830) rotate(-45) scale(0.8400,1)" font-size="19.7" text-anchor="end" xml:space="preserve">SLE</text>
<text transform="translate(1438.8,1830) rotate(-45) scale(0.8400,1)" font-size="19.7" text-anchor="end" xml:space="preserve">LN</text>
<line x1="1307.56" y1="1623.09" x2="1307.56" y2="1681.36" stroke="#000" stroke-width="1.8"/>
<line x1="1307.56" y1="1731.88" x2="1307.56" y2="1795.03" stroke="#000" stroke-width="1.8"/>
<rect x="1286.07" y="1681.36" width="42.98" height="50.52" fill="#4db848" stroke="#000" stroke-width="1.8"/>
<line x1="1286.07" y1="1707.02" x2="1329.05" y2="1707.02" stroke="#000" stroke-width="1.8"/>
<circle cx="1307.56" cy="1588.87" r="3.9" fill="#000"/>
<line x1="1368.68" y1="1609.65" x2="1368.68" y2="1668.73" stroke="#000" stroke-width="1.8"/>
<line x1="1368.68" y1="1709.47" x2="1368.68" y2="1767.73" stroke="#000" stroke-width="1.8"/>
<rect x="1347.18" y="1668.73" width="42.98" height="40.74" fill="#f89c33" stroke="#000" stroke-width="1.8"/>
<line x1="1347.18" y1="1692.36" x2="1390.17" y2="1692.36" stroke="#000" stroke-width="1.8"/>
<circle cx="1368.68" cy="1602.72" r="3.9" fill="#000"/>
<circle cx="1368.68" cy="1607.61" r="3.9" fill="#000"/>
<line x1="1429.79" y1="1602.31" x2="1429.79" y2="1669.54" stroke="#000" stroke-width="1.8"/>
<line x1="1429.79" y1="1715.17" x2="1429.79" y2="1782.81" stroke="#000" stroke-width="1.8"/>
<rect x="1408.3" y="1669.54" width="42.98" height="45.63" fill="#f47b5f" stroke="#000" stroke-width="1.8"/>
<line x1="1408.3" y1="1692.36" x2="1451.28" y2="1692.36" stroke="#000" stroke-width="1.8"/>
<circle cx="1429.79" cy="1552.61" r="3.9" fill="#000"/>
<circle cx="1429.79" cy="1594.98" r="3.9" fill="#000"/>
<circle cx="1429.79" cy="1789.73" r="3.9" fill="#000"/>
<path d="M1307.56 1548.13V1540.38H1368.68V1548.13" fill="none" stroke="#000" stroke-width="1.7" stroke-linejoin="round" stroke-linecap="round"/>
<text transform="translate(1338.12,1532.98) scale(1.1600,1)" font-size="14.5" text-anchor="middle" class="s" xml:space="preserve">****</text>
<path d="M1307.56 1518.79V1511.05H1429.79V1518.79" fill="none" stroke="#000" stroke-width="1.7" stroke-linejoin="round" stroke-linecap="round"/>
<text transform="translate(1368.27,1503.65) scale(1.1600,1)" font-size="14.5" text-anchor="middle" class="s" xml:space="preserve">***</text>
<path d="M1368.68 1489.46V1481.71H1429.79V1489.46" fill="none" stroke="#000" stroke-width="1.7" stroke-linejoin="round" stroke-linecap="round"/>
<text transform="translate(1395.97,1478.21) scale(0.9800,1)" font-size="19.7" text-anchor="middle" xml:space="preserve">ns</text>
<text transform="translate(1567.5,1353) scale(0.9247,1)" font-size="29.5" class="b" xml:space="preserve">H</text>
<text transform="translate(1689,1392.5) scale(0.9128,1)" font-size="23" text-anchor="middle" class="b" xml:space="preserve">Active B</text>
<rect x="1643.7" y="1442.6" width="25.2" height="183.94" fill="#d92e2b"/>
<rect x="1643.7" y="1625.95" width="25.2" height="111.83" fill="#2671b0"/>
<rect x="1643.7" y="1737.17" width="25.2" height="12.42" fill="#eaa640"/>
<rect x="1643.7" y="1748.99" width="25.2" height="28.31" fill="#3a9a52"/>
<rect x="1643.7" y="1776.69" width="25.2" height="4.07" fill="#c8cacb"/>
<line x1="1656.3" y1="1424.27" x2="1656.3" y2="1443.1" stroke="#d92e2b" stroke-width="1.7"/>
<line x1="1653.7" y1="1424.27" x2="1658.9" y2="1424.27" stroke="#d92e2b" stroke-width="1.7"/>
<line x1="1656.3" y1="1604.76" x2="1656.3" y2="1626.45" stroke="#2671b0" stroke-width="1.7"/>
<line x1="1653.7" y1="1604.76" x2="1658.9" y2="1604.76" stroke="#2671b0" stroke-width="1.7"/>
<line x1="1656.3" y1="1729.43" x2="1656.3" y2="1745.17" stroke="#eaa640" stroke-width="1.7"/>
<line x1="1653.7" y1="1729.43" x2="1658.9" y2="1729.43" stroke="#eaa640" stroke-width="1.7"/>
<line x1="1656.3" y1="1740.84" x2="1656.3" y2="1756.99" stroke="#3a9a52" stroke-width="1.7"/>
<line x1="1653.7" y1="1740.84" x2="1658.9" y2="1740.84" stroke="#3a9a52" stroke-width="1.7"/>
<line x1="1656.3" y1="1775.07" x2="1656.3" y2="1777.19" stroke="#c8cacb" stroke-width="1.7"/>
<line x1="1653.7" y1="1775.07" x2="1658.9" y2="1775.07" stroke="#c8cacb" stroke-width="1.7"/>
<rect x="1677.1" y="1442.6" width="25.2" height="134.64" fill="#d92e2b"/>
<rect x="1677.1" y="1576.65" width="25.2" height="154.61" fill="#2671b0"/>
<rect x="1677.1" y="1730.66" width="25.2" height="25.05" fill="#eaa640"/>
<rect x="1677.1" y="1755.1" width="25.2" height="23.01" fill="#3a9a52"/>
<rect x="1677.1" y="1777.51" width="25.2" height="3.26" fill="#c8cacb"/>
<line x1="1689.7" y1="1420.6" x2="1689.7" y2="1443.1" stroke="#d92e2b" stroke-width="1.7"/>
<line x1="1687.1" y1="1420.6" x2="1692.3" y2="1420.6" stroke="#d92e2b" stroke-width="1.7"/>
<line x1="1689.7" y1="1551.79" x2="1689.7" y2="1577.15" stroke="#2671b0" stroke-width="1.7"/>
<line x1="1687.1" y1="1551.79" x2="1692.3" y2="1551.79" stroke="#2671b0" stroke-width="1.7"/>
<line x1="1689.7" y1="1719.65" x2="1689.7" y2="1738.66" stroke="#eaa640" stroke-width="1.7"/>
<line x1="1687.1" y1="1719.65" x2="1692.3" y2="1719.65" stroke="#eaa640" stroke-width="1.7"/>
<line x1="1689.7" y1="1744.1" x2="1689.7" y2="1763.1" stroke="#3a9a52" stroke-width="1.7"/>
<line x1="1687.1" y1="1744.1" x2="1692.3" y2="1744.1" stroke="#3a9a52" stroke-width="1.7"/>
<line x1="1689.7" y1="1776.69" x2="1689.7" y2="1778.01" stroke="#c8cacb" stroke-width="1.7"/>
<line x1="1687.1" y1="1776.69" x2="1692.3" y2="1776.69" stroke="#c8cacb" stroke-width="1.7"/>
<rect x="1710.5" y="1442.6" width="25.2" height="141.57" fill="#d92e2b"/>
<rect x="1710.5" y="1583.57" width="25.2" height="138.72" fill="#2671b0"/>
<rect x="1710.5" y="1721.69" width="25.2" height="12.42" fill="#eaa640"/>
<rect x="1710.5" y="1733.51" width="25.2" height="42.97" fill="#3a9a52"/>
<rect x="1710.5" y="1775.88" width="25.2" height="4.89" fill="#c8cacb"/>
<line x1="1723.1" y1="1422.23" x2="1723.1" y2="1443.1" stroke="#d92e2b" stroke-width="1.7"/>
<line x1="1720.5" y1="1422.23" x2="1725.7" y2="1422.23" stroke="#d92e2b" stroke-width="1.7"/>
<line x1="1723.1" y1="1575.83" x2="1723.1" y2="1584.07" stroke="#2671b0" stroke-width="1.7"/>
<line x1="1720.5" y1="1575.83" x2="1725.7" y2="1575.83" stroke="#2671b0" stroke-width="1.7"/>
<line x1="1723.1" y1="1715.99" x2="1723.1" y2="1729.69" stroke="#eaa640" stroke-width="1.7"/>
<line x1="1720.5" y1="1715.99" x2="1725.7" y2="1715.99" stroke="#eaa640" stroke-width="1.7"/>
<line x1="1723.1" y1="1730.25" x2="1723.1" y2="1741.51" stroke="#3a9a52" stroke-width="1.7"/>
<line x1="1720.5" y1="1730.25" x2="1725.7" y2="1730.25" stroke="#3a9a52" stroke-width="1.7"/>
<line x1="1723.1" y1="1773.84" x2="1723.1" y2="1776.38" stroke="#c8cacb" stroke-width="1.7"/>
<line x1="1720.5" y1="1773.84" x2="1725.7" y2="1773.84" stroke="#c8cacb" stroke-width="1.7"/>
<path d="M1636.4 1403.1V1797.1H1743" fill="none" stroke="#000" stroke-width="1.8" stroke-linejoin="miter" stroke-linecap="butt"/>
<line x1="1656.3" y1="1797.1" x2="1656.3" y2="1801.6" stroke="#000" stroke-width="1.8"/>
<line x1="1689.7" y1="1797.1" x2="1689.7" y2="1801.6" stroke="#000" stroke-width="1.8"/>
<line x1="1723.1" y1="1797.1" x2="1723.1" y2="1801.6" stroke="#000" stroke-width="1.8"/>
<line x1="1631.9" y1="1477.2" x2="1636.4" y2="1477.2" stroke="#000" stroke-width="1.8"/>
<line x1="1631.9" y1="1577.9" x2="1636.4" y2="1577.9" stroke="#000" stroke-width="1.8"/>
<line x1="1631.9" y1="1678.1" x2="1636.4" y2="1678.1" stroke="#000" stroke-width="1.8"/>
<line x1="1631.9" y1="1778.7" x2="1636.4" y2="1778.7" stroke="#000" stroke-width="1.8"/>
<text transform="translate(1628.8,1483.31) scale(0.9532,1)" font-size="18.42" text-anchor="end" xml:space="preserve">90</text>
<text transform="translate(1628.8,1584.01) scale(0.9532,1)" font-size="18.42" text-anchor="end" xml:space="preserve">60</text>
<text transform="translate(1628.8,1684.21) scale(0.9532,1)" font-size="18.42" text-anchor="end" xml:space="preserve">30</text>
<text transform="translate(1628.8,1784.81) scale(0.9532,1)" font-size="18.42" text-anchor="end" xml:space="preserve">0</text>
<text transform="translate(1668.3,1815.6) rotate(-45) scale(0.9300,1)" font-size="19.7" text-anchor="end" xml:space="preserve">HC</text>
<text transform="translate(1701.7,1815.6) rotate(-45) scale(0.9300,1)" font-size="19.7" text-anchor="end" xml:space="preserve">SLE</text>
<text transform="translate(1735.1,1815.6) rotate(-45) scale(0.9300,1)" font-size="19.7" text-anchor="end" xml:space="preserve">LN</text>
<text transform="translate(1771.2,1665.5) scale(0.9688,1)" font-size="23" class="b" xml:space="preserve">Isotype</text>
<rect x="1771.2" y="1677.3" width="19.7" height="19.8" fill="#d92e2b"/>
<text transform="translate(1798.1,1695.2) scale(0.9593,1)" font-size="19.7" xml:space="preserve">IgM</text>
<rect x="1771.2" y="1697.02" width="19.7" height="19.8" fill="#2671b0"/>
<text transform="translate(1798.1,1714.92) scale(0.8976,1)" font-size="19.7" xml:space="preserve">IgG</text>
<rect x="1771.2" y="1716.74" width="19.7" height="19.8" fill="#eaa640"/>
<text transform="translate(1798.1,1734.64) scale(0.9297,1)" font-size="19.7" xml:space="preserve">IgD</text>
<rect x="1771.2" y="1736.46" width="19.7" height="19.8" fill="#3a9a52"/>
<text transform="translate(1798.1,1754.36) scale(0.9300,1)" font-size="19.7" xml:space="preserve">IgA</text>
<rect x="1771.2" y="1756.18" width="19.7" height="19.8" fill="#c8cacb"/>
<text transform="translate(1798.1,1774.08) scale(0.9450,1)" font-size="19.7" xml:space="preserve">None</text>
<text transform="translate(1,2023.2) scale(0.8175,1)" font-size="29.5" class="b" xml:space="preserve">I</text>
<rect x="152.4" y="2341.2" width="32.6" height="52.91" fill="#4db848"/>
<line x1="168.7" y1="2325.86" x2="168.7" y2="2342.2" stroke="#4db848" stroke-width="1.9"/>
<line x1="166.3" y1="2325.86" x2="171.1" y2="2325.86" stroke="#4db848" stroke-width="1.9"/>
<rect x="193.8" y="2340.81" width="32.6" height="53.3" fill="#f89c33"/>
<line x1="210.1" y1="2314.36" x2="210.1" y2="2341.81" stroke="#f89c33" stroke-width="1.9"/>
<line x1="207.7" y1="2314.36" x2="212.5" y2="2314.36" stroke="#f89c33" stroke-width="1.9"/>
<rect x="235.6" y="2297.48" width="32.6" height="96.63" fill="#f47b5f"/>
<line x1="251.9" y1="2254.92" x2="251.9" y2="2298.48" stroke="#f47b5f" stroke-width="1.9"/>
<line x1="249.5" y1="2254.92" x2="254.3" y2="2254.92" stroke="#f47b5f" stroke-width="1.9"/>
<rect x="283.9" y="2241.12" width="32.6" height="152.99" fill="#4db848"/>
<line x1="300.2" y1="2197.02" x2="300.2" y2="2242.12" stroke="#4db848" stroke-width="1.9"/>
<line x1="297.8" y1="2197.02" x2="302.6" y2="2197.02" stroke="#4db848" stroke-width="1.9"/>
<rect x="325.3" y="2196.64" width="32.6" height="197.47" fill="#f89c33"/>
<line x1="341.6" y1="2162.52" x2="341.6" y2="2197.64" stroke="#f89c33" stroke-width="1.9"/>
<line x1="339.2" y1="2162.52" x2="344" y2="2162.52" stroke="#f89c33" stroke-width="1.9"/>
<rect x="366.8" y="2154.85" width="32.6" height="239.26" fill="#f47b5f"/>
<line x1="383.1" y1="2137.21" x2="383.1" y2="2155.85" stroke="#f47b5f" stroke-width="1.9"/>
<line x1="380.7" y1="2137.21" x2="385.5" y2="2137.21" stroke="#f47b5f" stroke-width="1.9"/>
<path d="M132.3 2079.7V2407.5H420.7" fill="none" stroke="#000" stroke-width="2.1" stroke-linejoin="miter" stroke-linecap="butt"/>
<line x1="210.1" y1="2407.5" x2="210.1" y2="2410.7" stroke="#000" stroke-width="2.1"/>
<line x1="341.6" y1="2407.5" x2="341.6" y2="2410.7" stroke="#000" stroke-width="2.1"/>
<line x1="129.1" y1="2093.9" x2="132.3" y2="2093.9" stroke="#000" stroke-width="2.1"/>
<line x1="129.1" y1="2168.7" x2="132.3" y2="2168.7" stroke="#000" stroke-width="2.1"/>
<line x1="129.1" y1="2243.8" x2="132.3" y2="2243.8" stroke="#000" stroke-width="2.1"/>
<line x1="129.1" y1="2318.6" x2="132.3" y2="2318.6" stroke="#000" stroke-width="2.1"/>
<line x1="129.1" y1="2393.3" x2="132.3" y2="2393.3" stroke="#000" stroke-width="2.1"/>
<text transform="translate(127,2102.29) scale(0.9891,1)" font-size="24.03" text-anchor="end" xml:space="preserve">40</text>
<text transform="translate(127,2177.09) scale(0.9891,1)" font-size="24.03" text-anchor="end" xml:space="preserve">30</text>
<text transform="translate(127,2252.19) scale(0.9891,1)" font-size="24.03" text-anchor="end" xml:space="preserve">20</text>
<text transform="translate(127,2326.99) scale(0.9891,1)" font-size="24.03" text-anchor="end" xml:space="preserve">10</text>
<text transform="translate(127,2401.69) scale(0.9891,1)" font-size="24.03" text-anchor="end" xml:space="preserve">0</text>
<text transform="translate(226.6,2430) rotate(-45) scale(0.9100,1)" font-size="25.7" text-anchor="end" xml:space="preserve">IGHA1</text>
<text transform="translate(358.1,2430) rotate(-45) scale(0.9100,1)" font-size="25.7" text-anchor="end" xml:space="preserve">IGHG1</text>
<text transform="translate(73,2257.4) rotate(-90) scale(0.9647,1)" font-size="26.5" text-anchor="middle" class="b" xml:space="preserve">Proportion (%)</text>
<text transform="translate(448.6,2274.1) scale(0.9562,1)" font-size="26.5" class="b" xml:space="preserve">Group</text>
<rect x="453.2" y="2290.6" width="32.2" height="32.4" fill="#4db848"/>
<text transform="translate(498.5,2312.8) scale(0.8975,1)" font-size="24.3" xml:space="preserve">HC</text>
<rect x="453.2" y="2323.9" width="32.2" height="32.4" fill="#f89c33"/>
<text transform="translate(498.5,2346.1) scale(0.8273,1)" font-size="24.3" xml:space="preserve">SLE</text>
<rect x="453.2" y="2357.2" width="32.2" height="32.4" fill="#f47b5f"/>
<text transform="translate(498.5,2379.4) scale(0.9014,1)" font-size="24.3" xml:space="preserve">LN</text>
<text transform="translate(628.5,2023.3) scale(0.6827,1)" font-size="29.5" class="b" xml:space="preserve">J</text>
<text transform="translate(740,2274) rotate(-90) scale(0.9657,1)" font-size="26.5" text-anchor="middle" class="b" xml:space="preserve">Mutation frequency</text>
<text transform="translate(907,2061.1) scale(0.8967,1)" font-size="26.5" text-anchor="middle" class="b" xml:space="preserve">IGKC<tspan font-size="15.9" dy="-8.75">+</tspan><tspan dy="8.75"> Naive B</tspan></text>
<line x1="823.26" y1="2432.78" x2="861.22" y2="2432.78" stroke="#000" stroke-width="2.4"/>
<circle cx="842.24" cy="2316.13" r="4.5" fill="#000"/>
<circle cx="842.24" cy="2320.08" r="4.5" fill="#000"/>
<circle cx="842.24" cy="2329.97" r="4.5" fill="#000"/>
<circle cx="842.24" cy="2349.74" r="4.5" fill="#000"/>
<circle cx="842.24" cy="2359.63" r="4.5" fill="#000"/>
<circle cx="842.24" cy="2373.47" r="4.5" fill="#000"/>
<circle cx="842.24" cy="2377.42" r="4.5" fill="#000"/>
<circle cx="842.24" cy="2381.38" r="4.5" fill="#000"/>
<circle cx="842.24" cy="2385.33" r="4.5" fill="#000"/>
<circle cx="842.24" cy="2389.29" r="4.5" fill="#000"/>
<circle cx="842.24" cy="2393.24" r="4.5" fill="#000"/>
<circle cx="842.24" cy="2397.19" r="4.5" fill="#000"/>
<circle cx="842.24" cy="2401.15" r="4.5" fill="#000"/>
<circle cx="842.24" cy="2405.1" r="4.5" fill="#000"/>
<circle cx="842.24" cy="2409.06" r="4.5" fill="#000"/>
<circle cx="842.24" cy="2413.01" r="4.5" fill="#000"/>
<circle cx="842.24" cy="2416.97" r="4.5" fill="#000"/>
<circle cx="842.24" cy="2420.92" r="4.5" fill="#000"/>
<circle cx="842.24" cy="2424.88" r="4.5" fill="#000"/>
<circle cx="842.24" cy="2428.83" r="4.5" fill="#000"/>
<circle cx="842.24" cy="2432.78" r="4.5" fill="#000"/>
<line x1="877.43" y1="2432.78" x2="915.4" y2="2432.78" stroke="#000" stroke-width="2.4"/>
<circle cx="896.42" cy="2390.47" r="4.5" fill="#000"/>
<circle cx="896.42" cy="2399.96" r="4.5" fill="#000"/>
<circle cx="896.42" cy="2409.06" r="4.5" fill="#000"/>
<circle cx="896.42" cy="2413.01" r="4.5" fill="#000"/>
<circle cx="896.42" cy="2416.97" r="4.5" fill="#000"/>
<circle cx="896.42" cy="2420.92" r="4.5" fill="#000"/>
<circle cx="896.42" cy="2424.88" r="4.5" fill="#000"/>
<circle cx="896.42" cy="2428.83" r="4.5" fill="#000"/>
<circle cx="896.42" cy="2432.78" r="4.5" fill="#000"/>
<line x1="931.61" y1="2432.78" x2="969.57" y2="2432.78" stroke="#000" stroke-width="2.4"/>
<circle cx="950.59" cy="2399.96" r="4.5" fill="#000"/>
<circle cx="950.59" cy="2405.1" r="4.5" fill="#000"/>
<circle cx="950.59" cy="2411.03" r="4.5" fill="#000"/>
<circle cx="950.59" cy="2418.94" r="4.5" fill="#000"/>
<circle cx="950.59" cy="2422.9" r="4.5" fill="#000"/>
<circle cx="950.59" cy="2426.85" r="4.5" fill="#000"/>
<circle cx="950.59" cy="2430.81" r="4.5" fill="#000"/>
<path d="M810.2 2085.2V2449.4H982.7" fill="none" stroke="#000" stroke-width="2" stroke-linejoin="miter" stroke-linecap="butt"/>
<line x1="842.2" y1="2449.4" x2="842.2" y2="2454.9" stroke="#000" stroke-width="2"/>
<line x1="896.4" y1="2449.4" x2="896.4" y2="2454.9" stroke="#000" stroke-width="2"/>
<line x1="950.6" y1="2449.4" x2="950.6" y2="2454.9" stroke="#000" stroke-width="2"/>
<line x1="804.7" y1="2161.9" x2="810.2" y2="2161.9" stroke="#000" stroke-width="2"/>
<line x1="804.7" y1="2252.1" x2="810.2" y2="2252.1" stroke="#000" stroke-width="2"/>
<line x1="804.7" y1="2342.2" x2="810.2" y2="2342.2" stroke="#000" stroke-width="2"/>
<line x1="804.7" y1="2432.8" x2="810.2" y2="2432.8" stroke="#000" stroke-width="2"/>
<text transform="translate(800,2169.61) scale(0.9532,1)" font-size="22.72" text-anchor="end" xml:space="preserve">90</text>
<text transform="translate(800,2259.81) scale(0.9532,1)" font-size="22.72" text-anchor="end" xml:space="preserve">60</text>
<text transform="translate(800,2349.91) scale(0.9532,1)" font-size="22.72" text-anchor="end" xml:space="preserve">30</text>
<text transform="translate(800,2440.51) scale(0.9532,1)" font-size="22.72" text-anchor="end" xml:space="preserve">0</text>
<text transform="translate(856.1,2468.6) rotate(-45) scale(0.9000,1)" font-size="22.2" text-anchor="end" xml:space="preserve">HC</text>
<text transform="translate(910.3,2468.6) rotate(-45) scale(0.9000,1)" font-size="22.2" text-anchor="end" xml:space="preserve">SLE</text>
<text transform="translate(964.5,2468.6) rotate(-45) scale(0.9000,1)" font-size="22.2" text-anchor="end" xml:space="preserve">LN</text>
<path d="M842.24 2189.98V2186.42H896.42V2189.98" fill="none" stroke="#000" stroke-width="1.7" stroke-linejoin="round" stroke-linecap="round"/>
<text transform="translate(871.5,2179.22) scale(1.1600,1)" font-size="14.5" text-anchor="middle" class="s" xml:space="preserve">****</text>
<path d="M842.24 2159.53V2155.97H950.59V2159.53" fill="none" stroke="#000" stroke-width="1.7" stroke-linejoin="round" stroke-linecap="round"/>
<text transform="translate(898.39,2148.77) scale(1.1600,1)" font-size="14.5" text-anchor="middle" class="s" xml:space="preserve">****</text>
<path d="M896.42 2129.48V2125.92H950.59V2129.48" fill="none" stroke="#000" stroke-width="1.7" stroke-linejoin="round" stroke-linecap="round"/>
<text transform="translate(924.49,2118.72) scale(1.1600,1)" font-size="14.5" text-anchor="middle" class="s" xml:space="preserve">***</text>
<text transform="translate(1169,2061.1) scale(0.9015,1)" font-size="26.5" text-anchor="middle" class="b" xml:space="preserve">IGLC2<tspan font-size="15.9" dy="-8.75">+</tspan><tspan dy="8.75"> Naive B</tspan></text>
<line x1="1090.97" y1="2432.78" x2="1128.94" y2="2432.78" stroke="#000" stroke-width="2.4"/>
<circle cx="1109.96" cy="2342.62" r="4.5" fill="#000"/>
<circle cx="1109.96" cy="2348.55" r="4.5" fill="#000"/>
<circle cx="1109.96" cy="2361.6" r="4.5" fill="#000"/>
<circle cx="1109.96" cy="2365.56" r="4.5" fill="#000"/>
<circle cx="1109.96" cy="2375.44" r="4.5" fill="#000"/>
<circle cx="1109.96" cy="2379.4" r="4.5" fill="#000"/>
<circle cx="1109.96" cy="2383.35" r="4.5" fill="#000"/>
<circle cx="1109.96" cy="2387.31" r="4.5" fill="#000"/>
<circle cx="1109.96" cy="2391.26" r="4.5" fill="#000"/>
<circle cx="1109.96" cy="2395.22" r="4.5" fill="#000"/>
<circle cx="1109.96" cy="2399.17" r="4.5" fill="#000"/>
<circle cx="1109.96" cy="2403.13" r="4.5" fill="#000"/>
<circle cx="1109.96" cy="2407.08" r="4.5" fill="#000"/>
<circle cx="1109.96" cy="2411.03" r="4.5" fill="#000"/>
<circle cx="1109.96" cy="2414.99" r="4.5" fill="#000"/>
<circle cx="1109.96" cy="2418.94" r="4.5" fill="#000"/>
<circle cx="1109.96" cy="2422.9" r="4.5" fill="#000"/>
<circle cx="1109.96" cy="2426.85" r="4.5" fill="#000"/>
<circle cx="1109.96" cy="2430.81" r="4.5" fill="#000"/>
<line x1="1145.15" y1="2432.78" x2="1183.11" y2="2432.78" stroke="#000" stroke-width="2.4"/>
<circle cx="1164.13" cy="2390.47" r="4.5" fill="#000"/>
<circle cx="1164.13" cy="2399.96" r="4.5" fill="#000"/>
<circle cx="1164.13" cy="2407.08" r="4.5" fill="#000"/>
<circle cx="1164.13" cy="2411.03" r="4.5" fill="#000"/>
<circle cx="1164.13" cy="2414.99" r="4.5" fill="#000"/>
<circle cx="1164.13" cy="2418.94" r="4.5" fill="#000"/>
<circle cx="1164.13" cy="2422.9" r="4.5" fill="#000"/>
<circle cx="1164.13" cy="2426.85" r="4.5" fill="#000"/>
<circle cx="1164.13" cy="2430.81" r="4.5" fill="#000"/>
<line x1="1199.33" y1="2432.78" x2="1237.29" y2="2432.78" stroke="#000" stroke-width="2.4"/>
<circle cx="1218.31" cy="2403.13" r="4.5" fill="#000"/>
<circle cx="1218.31" cy="2407.08" r="4.5" fill="#000"/>
<circle cx="1218.31" cy="2411.03" r="4.5" fill="#000"/>
<circle cx="1218.31" cy="2414.99" r="4.5" fill="#000"/>
<circle cx="1218.31" cy="2418.94" r="4.5" fill="#000"/>
<circle cx="1218.31" cy="2422.9" r="4.5" fill="#000"/>
<circle cx="1218.31" cy="2426.85" r="4.5" fill="#000"/>
<circle cx="1218.31" cy="2430.81" r="4.5" fill="#000"/>
<path d="M1077.9 2085.2V2449.4H1250.4" fill="none" stroke="#000" stroke-width="2" stroke-linejoin="miter" stroke-linecap="butt"/>
<line x1="1109.9" y1="2449.4" x2="1109.9" y2="2454.9" stroke="#000" stroke-width="2"/>
<line x1="1164.1" y1="2449.4" x2="1164.1" y2="2454.9" stroke="#000" stroke-width="2"/>
<line x1="1218.3" y1="2449.4" x2="1218.3" y2="2454.9" stroke="#000" stroke-width="2"/>
<line x1="1072.4" y1="2161.9" x2="1077.9" y2="2161.9" stroke="#000" stroke-width="2"/>
<line x1="1072.4" y1="2252.1" x2="1077.9" y2="2252.1" stroke="#000" stroke-width="2"/>
<line x1="1072.4" y1="2342.2" x2="1077.9" y2="2342.2" stroke="#000" stroke-width="2"/>
<line x1="1072.4" y1="2432.8" x2="1077.9" y2="2432.8" stroke="#000" stroke-width="2"/>
<text transform="translate(1067.7,2169.61) scale(0.9532,1)" font-size="22.72" text-anchor="end" xml:space="preserve">90</text>
<text transform="translate(1067.7,2259.81) scale(0.9532,1)" font-size="22.72" text-anchor="end" xml:space="preserve">60</text>
<text transform="translate(1067.7,2349.91) scale(0.9532,1)" font-size="22.72" text-anchor="end" xml:space="preserve">30</text>
<text transform="translate(1067.7,2440.51) scale(0.9532,1)" font-size="22.72" text-anchor="end" xml:space="preserve">0</text>
<text transform="translate(1123.8,2468.6) rotate(-45) scale(0.9000,1)" font-size="22.2" text-anchor="end" xml:space="preserve">HC</text>
<text transform="translate(1178,2468.6) rotate(-45) scale(0.9000,1)" font-size="22.2" text-anchor="end" xml:space="preserve">SLE</text>
<text transform="translate(1232.2,2468.6) rotate(-45) scale(0.9000,1)" font-size="22.2" text-anchor="end" xml:space="preserve">LN</text>
<path d="M1109.96 2190.38V2187.61H1164.13V2190.38" fill="none" stroke="#000" stroke-width="1.7" stroke-linejoin="round" stroke-linecap="round"/>
<text transform="translate(1139.22,2180.41) scale(1.1600,1)" font-size="14.5" text-anchor="middle" class="s" xml:space="preserve">****</text>
<path d="M1109.96 2160.32V2157.55H1218.31V2160.32" fill="none" stroke="#000" stroke-width="1.7" stroke-linejoin="round" stroke-linecap="round"/>
<text transform="translate(1166.11,2150.35) scale(1.1600,1)" font-size="14.5" text-anchor="middle" class="s" xml:space="preserve">****</text>
<path d="M1164.13 2129.87V2127.11H1218.31V2129.87" fill="none" stroke="#000" stroke-width="1.7" stroke-linejoin="round" stroke-linecap="round"/>
<text transform="translate(1192.21,2119.91) scale(1.1600,1)" font-size="14.5" text-anchor="middle" class="s" xml:space="preserve">**</text>
<text transform="translate(1440.3,2056.7) scale(0.9445,1)" font-size="26.5" text-anchor="middle" class="b" xml:space="preserve">Memory B</text>
<line x1="1386.86" y1="2275.25" x2="1386.86" y2="2351.17" stroke="#000" stroke-width="2"/>
<line x1="1386.86" y1="2399.48" x2="1386.86" y2="2429.39" stroke="#000" stroke-width="2"/>
<rect x="1368.07" y="2351.17" width="37.58" height="48.31" fill="#4db848" stroke="#000" stroke-width="2"/>
<line x1="1368.07" y1="2378.39" x2="1405.64" y2="2378.39" stroke="#000" stroke-width="2"/>
<circle cx="1386.86" cy="2176.7" r="4.5" fill="#000"/>
<circle cx="1386.86" cy="2203.54" r="4.5" fill="#000"/>
<circle cx="1386.86" cy="2218.88" r="4.5" fill="#000"/>
<circle cx="1386.86" cy="2231.15" r="4.5" fill="#000"/>
<circle cx="1386.86" cy="2233.83" r="4.5" fill="#000"/>
<circle cx="1386.86" cy="2248.4" r="4.5" fill="#000"/>
<circle cx="1386.86" cy="2254.16" r="4.5" fill="#000"/>
<circle cx="1386.86" cy="2263.74" r="4.5" fill="#000"/>
<circle cx="1386.86" cy="2267.58" r="4.5" fill="#000"/>
<circle cx="1386.86" cy="2271.41" r="4.5" fill="#000"/>
<circle cx="1386.86" cy="2274.48" r="4.5" fill="#000"/>
<line x1="1440.92" y1="2288.67" x2="1440.92" y2="2363.82" stroke="#000" stroke-width="2"/>
<line x1="1440.92" y1="2414.43" x2="1440.92" y2="2429.39" stroke="#000" stroke-width="2"/>
<rect x="1422.13" y="2363.82" width="37.58" height="50.61" fill="#f89c33" stroke="#000" stroke-width="2"/>
<line x1="1422.13" y1="2393.34" x2="1459.71" y2="2393.34" stroke="#000" stroke-width="2"/>
<circle cx="1440.92" cy="2227.32" r="4.5" fill="#000"/>
<circle cx="1440.92" cy="2233.07" r="4.5" fill="#000"/>
<circle cx="1440.92" cy="2243.8" r="4.5" fill="#000"/>
<circle cx="1440.92" cy="2248.4" r="4.5" fill="#000"/>
<circle cx="1440.92" cy="2254.16" r="4.5" fill="#000"/>
<circle cx="1440.92" cy="2265.66" r="4.5" fill="#000"/>
<circle cx="1440.92" cy="2270.64" r="4.5" fill="#000"/>
<circle cx="1440.92" cy="2275.25" r="4.5" fill="#000"/>
<circle cx="1440.92" cy="2281" r="4.5" fill="#000"/>
<circle cx="1440.92" cy="2286.75" r="4.5" fill="#000"/>
<line x1="1495.37" y1="2302.09" x2="1495.37" y2="2372.25" stroke="#000" stroke-width="2"/>
<line x1="1495.37" y1="2417.12" x2="1495.37" y2="2429.39" stroke="#000" stroke-width="2"/>
<rect x="1476.58" y="2372.25" width="37.58" height="44.86" fill="#f47b5f" stroke="#000" stroke-width="2"/>
<line x1="1476.58" y1="2396.03" x2="1514.16" y2="2396.03" stroke="#000" stroke-width="2"/>
<circle cx="1495.37" cy="2261.06" r="4.5" fill="#000"/>
<circle cx="1495.37" cy="2269.49" r="4.5" fill="#000"/>
<circle cx="1495.37" cy="2273.33" r="4.5" fill="#000"/>
<circle cx="1495.37" cy="2279.08" r="4.5" fill="#000"/>
<circle cx="1495.37" cy="2284.83" r="4.5" fill="#000"/>
<circle cx="1495.37" cy="2289.82" r="4.5" fill="#000"/>
<circle cx="1495.37" cy="2294.42" r="4.5" fill="#000"/>
<circle cx="1495.37" cy="2299.02" r="4.5" fill="#000"/>
<path d="M1354.3 2082V2446.3H1527.7" fill="none" stroke="#000" stroke-width="2" stroke-linejoin="miter" stroke-linecap="butt"/>
<line x1="1386.9" y1="2446.3" x2="1386.9" y2="2451.8" stroke="#000" stroke-width="2"/>
<line x1="1440.9" y1="2446.3" x2="1440.9" y2="2451.8" stroke="#000" stroke-width="2"/>
<line x1="1495.4" y1="2446.3" x2="1495.4" y2="2451.8" stroke="#000" stroke-width="2"/>
<line x1="1348.8" y1="2158.3" x2="1354.3" y2="2158.3" stroke="#000" stroke-width="2"/>
<line x1="1348.8" y1="2248.8" x2="1354.3" y2="2248.8" stroke="#000" stroke-width="2"/>
<line x1="1348.8" y1="2339.3" x2="1354.3" y2="2339.3" stroke="#000" stroke-width="2"/>
<line x1="1348.8" y1="2429.4" x2="1354.3" y2="2429.4" stroke="#000" stroke-width="2"/>
<text transform="translate(1344.5,2166.01) scale(0.9532,1)" font-size="22.72" text-anchor="end" xml:space="preserve">90</text>
<text transform="translate(1344.5,2256.51) scale(0.9532,1)" font-size="22.72" text-anchor="end" xml:space="preserve">60</text>
<text transform="translate(1344.5,2347.01) scale(0.9532,1)" font-size="22.72" text-anchor="end" xml:space="preserve">30</text>
<text transform="translate(1344.5,2437.11) scale(0.9532,1)" font-size="22.72" text-anchor="end" xml:space="preserve">0</text>
<text transform="translate(1400.8,2465.5) rotate(-45) scale(0.9000,1)" font-size="22.2" text-anchor="end" xml:space="preserve">HC</text>
<text transform="translate(1454.8,2465.5) rotate(-45) scale(0.9000,1)" font-size="22.2" text-anchor="end" xml:space="preserve">SLE</text>
<text transform="translate(1509.3,2465.5) rotate(-45) scale(0.9000,1)" font-size="22.2" text-anchor="end" xml:space="preserve">LN</text>
<path d="M1386.86 2183.6V2176.32H1440.92V2183.6" fill="none" stroke="#000" stroke-width="1.7" stroke-linejoin="round" stroke-linecap="round"/>
<text transform="translate(1415.61,2168.02) scale(1.1600,1)" font-size="14.5" text-anchor="middle" class="s" xml:space="preserve">****</text>
<path d="M1386.86 2153.31V2145.64H1495.37V2153.31" fill="none" stroke="#000" stroke-width="1.7" stroke-linejoin="round" stroke-linecap="round"/>
<text transform="translate(1443.22,2137.34) scale(1.1600,1)" font-size="14.5" text-anchor="middle" class="s" xml:space="preserve">****</text>
<path d="M1440.92 2123.4V2115.74H1495.37V2123.4" fill="none" stroke="#000" stroke-width="1.7" stroke-linejoin="round" stroke-linecap="round"/>
<text transform="translate(1468.14,2107.44) scale(1.1600,1)" font-size="14.5" text-anchor="middle" class="s" xml:space="preserve">*</text>
<text transform="translate(1695.5,2056.7) scale(0.9054,1)" font-size="26.5" text-anchor="middle" class="b" xml:space="preserve">Active B</text>
<line x1="1641.07" y1="2297.48" x2="1641.07" y2="2363.05" stroke="#000" stroke-width="2"/>
<line x1="1641.07" y1="2411.75" x2="1641.07" y2="2429.39" stroke="#000" stroke-width="2"/>
<rect x="1622.29" y="2363.05" width="37.58" height="48.7" fill="#4db848" stroke="#000" stroke-width="2"/>
<line x1="1622.29" y1="2393.34" x2="1659.86" y2="2393.34" stroke="#000" stroke-width="2"/>
<circle cx="1641.07" cy="2261.06" r="4.5" fill="#000"/>
<circle cx="1641.07" cy="2285.21" r="4.5" fill="#000"/>
<line x1="1695.52" y1="2342.35" x2="1695.52" y2="2393.34" stroke="#000" stroke-width="2"/>
<line x1="1695.52" y1="2429.39" x2="1695.52" y2="2429.39" stroke="#000" stroke-width="2"/>
<rect x="1676.73" y="2393.34" width="37.58" height="36.04" fill="#f89c33" stroke="#000" stroke-width="2"/>
<line x1="1676.73" y1="2417.12" x2="1714.31" y2="2417.12" stroke="#000" stroke-width="2"/>
<circle cx="1695.52" cy="2261.06" r="4.5" fill="#000"/>
<circle cx="1695.52" cy="2297.1" r="4.5" fill="#000"/>
<circle cx="1695.52" cy="2304" r="4.5" fill="#000"/>
<circle cx="1695.52" cy="2309.75" r="4.5" fill="#000"/>
<circle cx="1695.52" cy="2315.51" r="4.5" fill="#000"/>
<circle cx="1695.52" cy="2321.26" r="4.5" fill="#000"/>
<circle cx="1695.52" cy="2327.01" r="4.5" fill="#000"/>
<circle cx="1695.52" cy="2330.84" r="4.5" fill="#000"/>
<circle cx="1695.52" cy="2334.68" r="4.5" fill="#000"/>
<circle cx="1695.52" cy="2337.36" r="4.5" fill="#000"/>
<line x1="1749.59" y1="2333.53" x2="1749.59" y2="2387.98" stroke="#000" stroke-width="2"/>
<line x1="1749.59" y1="2429.39" x2="1749.59" y2="2429.39" stroke="#000" stroke-width="2"/>
<rect x="1730.8" y="2387.98" width="37.58" height="41.41" fill="#f47b5f" stroke="#000" stroke-width="2"/>
<line x1="1730.8" y1="2411.37" x2="1768.37" y2="2411.37" stroke="#000" stroke-width="2"/>
<circle cx="1749.59" cy="2297.1" r="4.5" fill="#000"/>
<circle cx="1749.59" cy="2308.99" r="4.5" fill="#000"/>
<circle cx="1749.59" cy="2313.59" r="4.5" fill="#000"/>
<circle cx="1749.59" cy="2317.42" r="4.5" fill="#000"/>
<path d="M1609.2 2082V2446.3H1781.9" fill="none" stroke="#000" stroke-width="2" stroke-linejoin="miter" stroke-linecap="butt"/>
<line x1="1641.1" y1="2446.3" x2="1641.1" y2="2451.8" stroke="#000" stroke-width="2"/>
<line x1="1695.5" y1="2446.3" x2="1695.5" y2="2451.8" stroke="#000" stroke-width="2"/>
<line x1="1749.6" y1="2446.3" x2="1749.6" y2="2451.8" stroke="#000" stroke-width="2"/>
<line x1="1603.7" y1="2158.3" x2="1609.2" y2="2158.3" stroke="#000" stroke-width="2"/>
<line x1="1603.7" y1="2248.8" x2="1609.2" y2="2248.8" stroke="#000" stroke-width="2"/>
<line x1="1603.7" y1="2339.3" x2="1609.2" y2="2339.3" stroke="#000" stroke-width="2"/>
<line x1="1603.7" y1="2429.4" x2="1609.2" y2="2429.4" stroke="#000" stroke-width="2"/>
<text transform="translate(1599,2166.01) scale(0.9532,1)" font-size="22.72" text-anchor="end" xml:space="preserve">90</text>
<text transform="translate(1599,2256.51) scale(0.9532,1)" font-size="22.72" text-anchor="end" xml:space="preserve">60</text>
<text transform="translate(1599,2347.01) scale(0.9532,1)" font-size="22.72" text-anchor="end" xml:space="preserve">30</text>
<text transform="translate(1599,2437.11) scale(0.9532,1)" font-size="22.72" text-anchor="end" xml:space="preserve">0</text>
<text transform="translate(1655,2465.5) rotate(-45) scale(0.9000,1)" font-size="22.2" text-anchor="end" xml:space="preserve">HC</text>
<text transform="translate(1709.4,2465.5) rotate(-45) scale(0.9000,1)" font-size="22.2" text-anchor="end" xml:space="preserve">SLE</text>
<text transform="translate(1763.5,2465.5) rotate(-45) scale(0.9000,1)" font-size="22.2" text-anchor="end" xml:space="preserve">LN</text>
<path d="M1641.07 2185.52V2180.54H1695.52V2185.52" fill="none" stroke="#000" stroke-width="1.7" stroke-linejoin="round" stroke-linecap="round"/>
<text transform="translate(1670.21,2172.24) scale(1.1600,1)" font-size="14.5" text-anchor="middle" class="s" xml:space="preserve">****</text>
<path d="M1641.07 2155.23V2149.86H1749.59V2155.23" fill="none" stroke="#000" stroke-width="1.7" stroke-linejoin="round" stroke-linecap="round"/>
<text transform="translate(1697.06,2141.56) scale(1.1600,1)" font-size="14.5" text-anchor="middle" class="s" xml:space="preserve">****</text>
<path d="M1695.52 2125.32V2120.34H1749.59V2125.32" fill="none" stroke="#000" stroke-width="1.7" stroke-linejoin="round" stroke-linecap="round"/>
<text transform="translate(1721.98,2115.84) scale(0.9800,1)" font-size="22" text-anchor="middle" xml:space="preserve">ns</text>
</svg>
</body></html>
